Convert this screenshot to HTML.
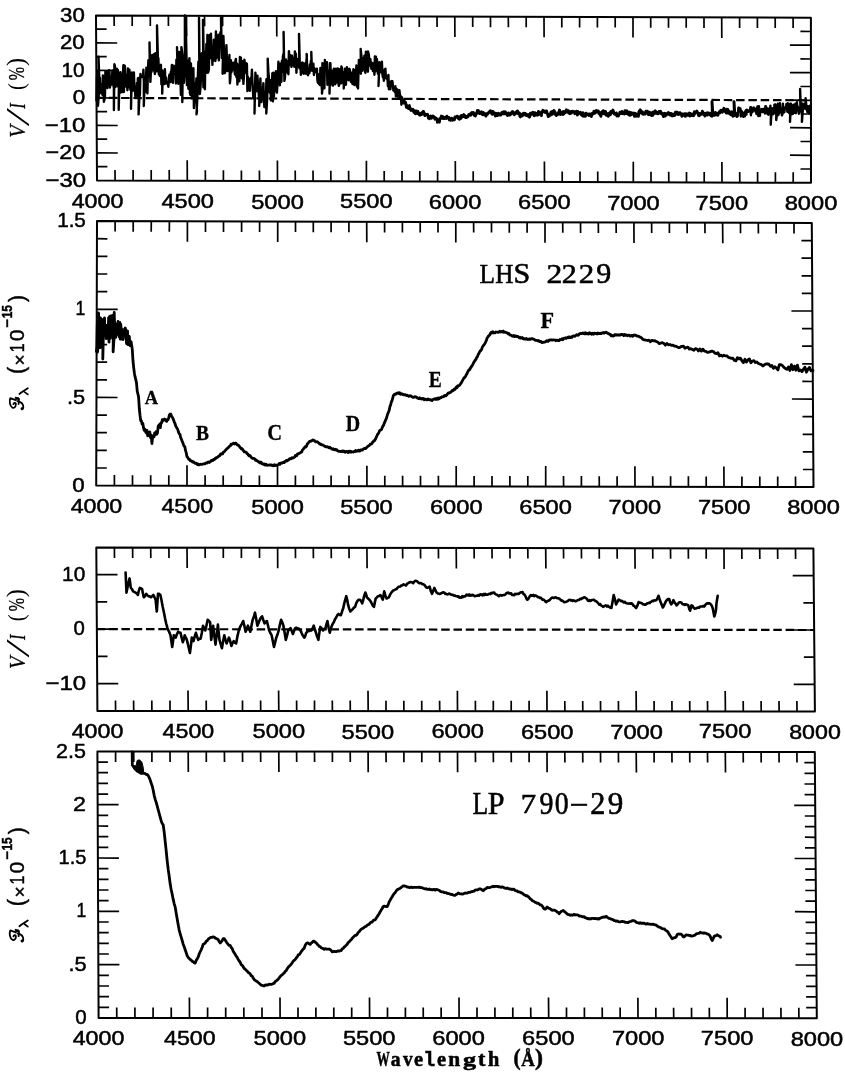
<!DOCTYPE html>
<html><head><meta charset="utf-8"><title>Figure</title>
<style>
html,body{margin:0;padding:0;background:#fff;}
body{width:845px;height:1075px;overflow:hidden;}
svg{display:block;will-change:transform;}
text{fill:#000;}
.tl{font-family:"Liberation Sans",sans-serif;font-size:21px;text-anchor:middle;stroke:#000;stroke-width:0.5px;}
.mono{font-family:"Liberation Mono",monospace;font-size:27px;}
.let{font-family:"Liberation Mono",monospace;font-size:20px;font-weight:bold;}
.wl{font-family:"Liberation Mono",monospace;font-size:21px;font-weight:bold;}
.c1{fill:none;stroke:#000;stroke-width:2.4;stroke-linejoin:round;}
.c1s{fill:none;stroke:#000;stroke-width:2.9;stroke-linejoin:round;stroke-linecap:round;}
.c2{fill:none;stroke:#000;stroke-width:2.8;stroke-linejoin:round;stroke-linecap:round;}
.c3{fill:none;stroke:#000;stroke-width:2.6;stroke-linejoin:round;stroke-linecap:round;}
.c4{fill:none;stroke:#000;stroke-width:2.8;stroke-linejoin:round;stroke-linecap:round;}
.c4b{fill:#000;stroke:#000;stroke-width:1;}
</style></head><body>
<svg width="845" height="1075" viewBox="0 0 845 1075">
<polygon points="96,15.4 810.9,17.7 811,182.8 97,180.4" fill="none" stroke="#000" stroke-width="2.0" stroke-linejoin="round"/>
<path d="M114.1 15.5L114.2 26M115.1 180.5L115 170M132.2 15.5L132.2 26M133.1 180.5L133.1 170M150.3 15.6L150.3 26.1M151.2 180.6L151.2 170.1M168.4 15.6L168.4 26.1M169.3 180.6L169.2 170.1M186.5 15.7L186.6 36.2M187.3 180.7L187.2 160.2M204.5 15.7L204.6 26.2M205.4 180.8L205.3 170.3M222.6 15.8L222.6 26.3M223.4 180.8L223.4 170.3M240.6 15.9L240.7 26.4M241.4 180.9L241.4 170.4M258.7 15.9L258.7 26.4M259.5 180.9L259.4 170.4M276.7 16L276.8 36.5M277.5 181L277.4 160.5M294.5 16L294.6 26.5M295.3 181.1L295.2 170.6M312.4 16.1L312.4 26.6M313.1 181.1L313 170.6M330.2 16.1L330.2 26.6M330.9 181.2L330.8 170.7M348 16.2L348 26.7M348.7 181.2L348.6 170.7M365.8 16.3L365.9 36.8M366.4 181.3L366.4 160.8M383.6 16.3L383.6 26.8M384.2 181.4L384.2 170.9M401.4 16.4L401.5 26.9M402 181.4L402 170.9M419.2 16.4L419.3 26.9M419.8 181.5L419.8 171M437 16.5L437.1 27M437.6 181.5L437.6 171M454.8 16.6L454.9 37M455.4 181.6L455.3 161.1M472.7 16.6L472.7 27.1M473.2 181.7L473.2 171.2M490.5 16.7L490.5 27.2M491 181.7L491 171.2M508.3 16.7L508.4 27.2M508.8 181.8L508.8 171.3M526.2 16.8L526.2 27.3M526.6 181.8L526.6 171.3M544 16.8L544.1 37.3M544.5 181.9L544.4 161.4M561.8 16.9L561.8 27.4M562.2 182L562.2 171.5M579.6 17L579.6 27.5M580 182L580 171.5M597.4 17L597.4 27.5M597.8 182.1L597.7 171.6M615.2 17.1L615.2 27.6M615.5 182.1L615.5 171.6M633 17.1L633 37.6M633.3 182.2L633.3 161.7M650.7 17.2L650.7 27.7M651 182.3L651 171.8M668.5 17.2L668.5 27.7M668.8 182.3L668.7 171.8M686.2 17.3L686.2 27.8M686.5 182.4L686.5 171.9M704 17.4L704 27.9M704.2 182.4L704.2 171.9M721.7 17.4L721.8 37.9M722 182.5L721.9 162M739.6 17.5L739.6 28M739.8 182.6L739.7 172.1M757.4 17.5L757.4 28M757.6 182.6L757.6 172.1M775.2 17.6L775.2 28.1M775.4 182.7L775.4 172.2M793.1 17.6L793.1 28.1M793.2 182.7L793.2 172.2M96.9 166.7L107.4 166.7M811 169L800.5 169M96.8 152.9L117.8 153M811 155.3L790 155.2M96.8 139.2L107.2 139.2M811 141.5L800.5 141.5M96.7 125.4L117.7 125.5M811 127.8L790 127.7M96.6 111.7L107.1 111.7M811 114L800.5 114M96.5 97.9L117.5 98M811 100.3L790 100.2M96.4 84.2L106.9 84.2M810.9 86.5L800.4 86.5M96.3 70.4L117.3 70.5M810.9 72.7L789.9 72.7M96.2 56.6L106.7 56.7M810.9 59L800.4 58.9M96.2 42.9L117.2 43M810.9 45.2L789.9 45.1M96.1 29.1L106.6 29.2M810.9 31.5L800.4 31.4" stroke="#000" stroke-width="1.7" fill="none"/>
<polygon points="97,221.1 811.8,223 813.5,487.1 96.2,485.6" fill="none" stroke="#000" stroke-width="2.0" stroke-linejoin="round"/>
<path d="M115.1 221.1L115.1 231.6M114.4 485.6L114.4 475.1M133.2 221.2L133.2 231.7M132.5 485.7L132.5 475.2M151.3 221.2L151.2 231.7M150.7 485.7L150.7 475.2M169.4 221.3L169.3 231.8M168.8 485.8L168.8 475.3M187.4 221.3L187.4 241.8M187 485.8L187 465.3M205.5 221.4L205.5 231.9M205.1 485.8L205.1 475.3M223.5 221.4L223.5 231.9M223.2 485.9L223.2 475.4M241.6 221.5L241.6 232M241.3 485.9L241.3 475.4M259.6 221.5L259.6 232M259.4 485.9L259.4 475.4M277.7 221.6L277.7 242.1M277.5 486L277.5 465.5M295.5 221.6L295.5 232.1M295.4 486L295.4 475.5M313.3 221.7L313.3 232.2M313.3 486L313.3 475.6M331.1 221.7L331.1 232.2M331.1 486.1L331.1 475.6M348.9 221.8L348.9 232.3M349 486.1L349 475.6M366.7 221.8L366.8 242.3M366.9 486.2L366.9 465.7M384.6 221.9L384.6 232.4M384.8 486.2L384.8 475.7M402.4 221.9L402.4 232.4M402.6 486.2L402.6 475.7M420.2 222L420.2 232.5M420.5 486.3L420.5 475.8M438 222L438 232.5M438.4 486.3L438.4 475.8M455.8 222.1L455.8 242.5M456.2 486.4L456.2 465.9M473.6 222.1L473.7 232.6M474.1 486.4L474.1 475.9M491.5 222.1L491.5 232.6M492 486.4L492 475.9M509.3 222.2L509.3 232.7M509.9 486.5L509.9 476M527.1 222.2L527.1 232.7M527.8 486.5L527.8 476M545 222.3L545 242.8M545.7 486.5L545.7 466M562.7 222.3L562.8 232.8M563.6 486.6L563.5 476.1M580.5 222.4L580.6 232.9M581.4 486.6L581.4 476.1M598.3 222.4L598.4 232.9M599.3 486.7L599.2 476.2M616.1 222.5L616.2 233M617.1 486.7L617.1 476.2M633.9 222.5L634 243M635 486.7L634.9 466.2M651.6 222.6L651.7 233.1M652.8 486.8L652.7 476.3M669.4 222.6L669.4 233.1M670.6 486.8L670.6 476.3M687.1 222.7L687.2 233.2M688.4 486.8L688.4 476.3M704.9 222.7L705 233.2M706.2 486.9L706.2 476.4M722.6 222.8L722.8 243.3M724 486.9L723.9 466.4M740.5 222.8L740.5 233.3M741.9 487L741.9 476.5M758.3 222.9L758.4 233.4M759.8 487L759.8 476.5M776.1 222.9L776.2 233.4M777.7 487L777.7 476.5M794 223L794 233.5M795.6 487.1L795.5 476.6M96.3 468L106.8 468M813.4 469.5L802.9 469.5M96.3 450.3L106.8 450.4M813.3 451.9L802.8 451.9M96.4 432.7L106.9 432.7M813.2 434.3L802.7 434.3M96.4 415.1L106.9 415.1M813 416.7L802.5 416.6M96.5 397.4L117.5 397.5M812.9 399.1L791.9 399M96.5 379.8L107 379.8M812.8 381.5L802.3 381.4M96.6 362.2L107.1 362.2M812.7 363.9L802.2 363.8M96.6 344.5L107.1 344.6M812.6 346.2L802.1 346.2M96.7 326.9L107.2 326.9M812.5 328.6L802 328.6M96.7 309.3L117.7 309.3M812.4 311L791.4 311M96.8 291.6L107.3 291.7M812.3 293.4L801.8 293.4M96.8 274L107.3 274M812.1 275.8L801.6 275.8M96.9 256.4L107.4 256.4M812 258.2L801.5 258.2M96.9 238.7L107.4 238.8M811.9 240.6L801.4 240.6" stroke="#000" stroke-width="1.7" fill="none"/>
<polygon points="96.3,547.4 813.4,548.5 814.9,711.6 97.4,710.9" fill="none" stroke="#000" stroke-width="2.0" stroke-linejoin="round"/>
<path d="M114.4 547.4L114.5 557.9M115.6 710.9L115.5 700.4M132.6 547.5L132.7 558M133.7 710.9L133.6 700.4M150.7 547.5L150.8 558M151.9 711L151.8 700.5M168.9 547.5L169 558M170 711L170 700.5M187 547.5L187.2 568M188.2 711L188 690.5M205.1 547.6L205.2 558.1M206.3 711L206.2 700.5M223.3 547.6L223.3 558.1M224.4 711L224.3 700.5M241.4 547.6L241.4 558.1M242.5 711L242.5 700.5M259.5 547.6L259.5 558.1M260.7 711.1L260.6 700.6M277.6 547.7L277.7 568.2M278.8 711.1L278.6 690.6M295.4 547.7L295.5 558.2M296.7 711.1L296.6 700.6M313.3 547.7L313.4 558.2M314.5 711.1L314.5 700.6M331.2 547.8L331.3 558.3M332.4 711.1L332.3 700.6M349 547.8L349.1 558.3M350.3 711.1L350.2 700.6M366.9 547.8L367.1 568.3M368.2 711.2L368 690.7M384.8 547.8L384.9 558.3M386 711.2L386 700.7M402.6 547.9L402.7 558.4M403.9 711.2L403.8 700.7M420.5 547.9L420.6 558.4M421.8 711.2L421.7 700.7M438.4 547.9L438.5 558.4M439.7 711.2L439.6 700.7M456.2 548L456.4 568.4M457.5 711.2L457.4 690.8M474.1 548L474.2 558.5M475.4 711.3L475.4 700.8M492 548L492.1 558.5M493.3 711.3L493.3 700.8M509.9 548L510 558.5M511.2 711.3L511.2 700.8M527.8 548.1L527.9 558.6M529.1 711.3L529.1 700.8M545.7 548.1L545.9 568.6M547 711.3L546.9 690.8M563.5 548.1L563.6 558.6M564.9 711.4L564.8 700.9M581.4 548.1L581.5 558.6M582.8 711.4L582.7 700.9M599.2 548.2L599.3 558.7M600.6 711.4L600.5 700.9M617.1 548.2L617.2 558.7M618.5 711.4L618.4 700.9M634.9 548.2L635.1 568.7M636.3 711.4L636.1 690.9M652.7 548.3L652.8 558.8M654.1 711.4L654.1 700.9M670.5 548.3L670.6 558.8M672 711.5L671.9 701M688.3 548.3L688.4 558.8M689.8 711.5L689.7 701M706.2 548.3L706.2 558.8M707.6 711.5L707.5 701M724 548.4L724.1 568.9M725.4 711.5L725.2 691M741.8 548.4L741.9 558.9M743.3 711.5L743.2 701M759.7 548.4L759.8 558.9M761.2 711.5L761.1 701M777.6 548.4L777.7 558.9M779.1 711.6L779 701.1M795.5 548.5L795.6 559M797 711.6L796.9 701.1M97.2 683.6L118.2 683.7M814.6 684.4L793.7 684.4M97 656.4L107.5 656.4M814.4 657.2L803.9 657.2M96.8 629.1L117.8 629.2M814.1 630L793.2 630M96.7 601.9L107.2 601.9M813.9 602.9L803.4 602.9M96.5 574.6L117.5 574.7M813.6 575.7L792.7 575.7" stroke="#000" stroke-width="1.7" fill="none"/>
<polygon points="97.4,751.4 814.8,752.1 816.8,1018.2 98.6,1018" fill="none" stroke="#000" stroke-width="2.0" stroke-linejoin="round"/>
<path d="M115.6 751.4L115.6 761.9M116.8 1018L116.7 1007.5M133.7 751.4L133.8 761.9M134.9 1018L134.9 1007.5M151.9 751.5L151.9 762M153.1 1018L153.1 1007.5M170 751.5L170.1 762M171.3 1018L171.2 1007.5M188.2 751.5L188.3 772M189.5 1018L189.4 997.5M206.3 751.5L206.3 762M207.6 1018L207.6 1007.5M224.4 751.5L224.5 762M225.7 1018L225.7 1007.5M242.5 751.5L242.6 762M243.9 1018L243.8 1007.5M260.6 751.6L260.7 762.1M262 1018L262 1007.5M278.8 751.6L278.9 772.1M280.1 1018L280 997.6M296.6 751.6L296.7 762.1M298 1018.1L298 1007.6M314.5 751.6L314.6 762.1M315.9 1018.1L315.9 1007.6M332.4 751.6L332.4 762.1M333.8 1018.1L333.8 1007.6M350.2 751.6L350.3 762.1M351.7 1018.1L351.7 1007.6M368.1 751.7L368.2 772.2M369.6 1018.1L369.5 997.6M386 751.7L386.1 762.2M387.5 1018.1L387.5 1007.6M403.9 751.7L403.9 762.2M405.4 1018.1L405.4 1007.6M421.8 751.7L421.8 762.2M423.3 1018.1L423.2 1007.6M439.6 751.7L439.7 762.2M441.2 1018.1L441.1 1007.6M457.5 751.8L457.6 772.2M459.1 1018.1L459 997.6M475.4 751.8L475.5 762.3M477 1018.1L477 1007.6M493.3 751.8L493.4 762.3M494.9 1018.1L494.9 1007.6M511.2 751.8L511.3 762.3M512.8 1018.1L512.8 1007.6M529.1 751.8L529.1 762.3M530.8 1018.1L530.7 1007.6M547 751.8L547.1 772.3M548.7 1018.1L548.5 997.6M564.8 751.9L564.9 762.4M566.5 1018.1L566.5 1007.6M582.7 751.9L582.8 762.4M584.4 1018.1L584.4 1007.6M600.5 751.9L600.6 762.4M602.3 1018.1L602.2 1007.6M618.4 751.9L618.5 762.4M620.2 1018.1L620.1 1007.6M636.2 751.9L636.4 772.4M638 1018.2L637.9 997.7M654.1 751.9L654.1 762.4M655.9 1018.2L655.8 1007.7M671.9 752L672 762.5M673.7 1018.2L673.6 1007.7M689.7 752L689.8 762.5M691.6 1018.2L691.5 1007.7M707.5 752L707.6 762.5M709.4 1018.2L709.3 1007.7M725.3 752L725.5 772.5M727.2 1018.2L727.1 997.7M743.2 752L743.3 762.5M745.1 1018.2L745.1 1007.7M761.1 752L761.2 762.5M763.1 1018.2L763 1007.7M779 752.1L779.1 762.6M781 1018.2L780.9 1007.7M796.9 752.1L797 762.6M798.9 1018.2L798.8 1007.7M98.6 1007.3L109.1 1007.3M816.7 1007.6L806.2 1007.6M98.5 996.7L109 996.7M816.6 996.9L806.1 996.9M98.5 986L109 986M816.6 986.3L806.1 986.3M98.4 975.3L108.9 975.3M816.5 975.6L806 975.6M98.4 964.7L119.4 964.7M816.4 965L795.4 965M98.3 954L108.8 954M816.3 954.3L805.8 954.3M98.3 943.4L108.8 943.4M816.2 943.7L805.7 943.7M98.2 932.7L108.7 932.7M816.2 933L805.7 933M98.2 922L108.7 922M816.1 922.4L805.6 922.4M98.1 911.4L119.1 911.4M816 911.8L795 911.7M98.1 900.7L108.6 900.7M815.9 901.1L805.4 901.1M98 890L108.5 890M815.8 890.5L805.3 890.5M98 879.4L108.5 879.4M815.8 879.8L805.3 879.8M97.9 868.7L108.4 868.7M815.7 869.2L805.2 869.2M97.9 858L118.9 858.1M815.6 858.5L794.6 858.5M97.8 847.4L108.3 847.4M815.5 847.9L805 847.9M97.8 836.7L108.3 836.7M815.4 837.3L804.9 837.2M97.7 826L108.2 826.1M815.4 826.6L804.9 826.6M97.7 815.4L108.2 815.4M815.3 816L804.8 816M97.6 804.7L118.6 804.7M815.2 805.3L794.2 805.3M97.6 794.1L108.1 794.1M815.1 794.7L804.6 794.7M97.5 783.4L108 783.4M815 784L804.5 784M97.5 772.7L108 772.7M815 773.4L804.5 773.4M97.4 762.1L107.9 762.1M814.9 762.7L804.4 762.7" stroke="#000" stroke-width="1.7" fill="none"/>
<line x1="96.5" y1="97.9" x2="811" y2="100.3" stroke="#000" stroke-width="2.2" stroke-dasharray="8.5 3.8"/>
<line x1="96.8" y1="629.1" x2="814.1" y2="630" stroke="#000" stroke-width="2.2" stroke-dasharray="8.5 3.8"/>
<path d="M96.4 101.2 96.9 77.3 97.4 71.6 97.9 105.8 98.4 100.2 98.9 92.8 98.5 56.7 99.4 81.6 99.9 78.0 100.4 93.1 100.9 88.3 101.4 89.2 101.9 90.6 102.4 94.7 102.9 75.5 103.4 77.6 103.9 101.8 104.4 99.5 104.9 98.2 105.4 71.1 105.9 71.5 106.4 77.8 106.9 82.3 107.4 88.1 107.9 71.8 108.4 84.8 108.9 70.3 109.4 70.3 109.9 87.5 110.4 83.1 110.9 85.0 111.4 76.6 111.9 79.2 112.4 70.4 112.9 73.9 113.4 85.6 113.9 88.0 113.9 110.0 114.4 64.3 114.9 65.7 115.4 87.1 115.9 81.3 116.4 85.8 116.9 68.6 117.4 75.2 117.9 70.0 118.4 87.1 118.9 73.4 118.7 109.7 119.4 82.3 119.9 92.9 120.4 72.3 120.9 79.6 121.4 86.2 121.9 92.2 122.4 76.2 122.9 74.4 123.4 65.3 123.9 92.0 124.4 65.5 124.9 66.1 125.4 82.3 125.9 80.0 126.4 86.9 126.9 74.7 127.4 90.2 127.9 68.4 128.4 73.1 128.9 87.4 129.4 69.6 129.9 76.7 130.4 89.9 130.9 89.1 131.4 76.6 131.0 108.7 131.9 72.5 132.4 79.2 132.9 90.6 133.4 79.8 133.9 72.5 134.4 90.6 134.9 86.5 135.4 97.2 135.9 98.0 136.4 97.3 136.9 83.0 137.4 93.6 137.9 78.1 138.4 78.0 138.9 80.1 138.6 114.4 139.4 96.5 139.9 94.9 140.4 74.0 140.9 77.2 141.4 76.9 141.9 76.3 142.4 77.0 142.9 76.6 143.4 69.8 143.9 82.3 143.8 106.0 144.4 90.3 144.9 81.2 145.4 91.7 145.9 81.8 146.4 67.6 146.9 88.9 147.4 93.4 147.9 70.7 148.4 60.2 148.9 76.0 149.4 74.9 149.9 73.5 149.5 42.5 150.4 81.9 150.9 71.2 151.4 72.2 151.9 55.2 152.4 65.0 152.9 70.3 153.4 54.6 153.9 54.2 154.4 69.8 154.9 74.0 155.4 53.2 155.9 67.6 156.4 54.1 156.9 71.3 157.4 69.2 157.0 25.4 157.9 58.4 158.4 58.3 158.9 74.6 159.4 68.2 159.9 76.0 160.4 65.7 160.9 64.7 161.4 84.1 161.9 75.5 162.4 70.4 162.2 93.6 162.9 72.0 163.4 77.7 163.9 77.6 164.4 84.1 164.9 69.2 165.4 81.9 165.9 77.4 166.4 83.3 166.9 82.1 167.4 83.1 167.9 84.7 168.4 86.8 168.9 77.8 169.4 74.7 169.9 80.0 170.4 82.1 170.9 71.7 171.4 71.5 171.9 64.9 172.4 78.2 172.9 82.9 173.4 69.8 173.9 65.7 174.4 66.5 174.9 70.2 175.4 67.2 175.9 83.5 176.4 59.6 176.9 66.1 177.4 58.9 177.0 47.2 177.9 77.9 178.4 83.8 178.9 58.4 179.4 51.9 179.9 70.8 180.4 77.5 180.9 94.9 181.4 47.1 181.9 50.7 182.4 54.5 182.3 102.0 182.9 55.9 183.4 56.5 183.9 82.9 184.4 75.8 184.9 54.8 184.9 15.5 185.4 52.4 185.9 58.0 185.6 17.0 186.4 52.2 186.9 85.0 187.4 60.4 187.9 73.7 188.4 88.8 188.9 70.3 189.4 58.3 189.9 93.2 190.4 94.8 190.9 63.5 191.4 75.0 191.9 98.5 192.4 79.4 192.9 74.2 193.4 68.2 193.9 108.1 194.4 101.8 194.9 83.3 195.4 89.8 195.9 89.4 196.4 78.5 196.9 111.3 196.5 114.4 197.4 96.2 197.9 75.0 198.4 61.8 198.9 81.8 199.4 74.6 199.0 17.8 199.9 94.0 200.4 87.9 200.9 80.3 201.4 54.3 201.9 53.3 202.4 61.0 202.9 56.7 203.4 87.2 203.0 20.0 203.9 67.7 204.4 72.7 204.9 89.3 205.4 51.8 205.9 63.9 206.4 44.0 206.9 72.8 207.4 35.0 207.9 72.6 208.4 71.7 208.9 68.6 209.4 35.3 209.9 42.1 210.4 58.3 210.9 33.6 211.4 47.8 211.9 47.1 212.4 64.9 212.9 50.8 213.4 60.5 213.9 39.8 214.4 57.2 214.9 43.4 215.4 61.1 215.9 31.4 216.4 58.4 216.9 36.0 217.4 48.6 217.9 48.2 218.4 34.7 218.9 60.4 219.4 40.9 219.9 41.1 220.4 32.2 220.9 41.3 221.4 47.9 221.0 17.8 221.9 57.9 222.4 44.1 222.9 57.4 222.6 73.7 223.4 35.9 223.9 49.0 224.4 53.2 224.9 73.1 225.4 69.5 225.9 64.9 226.4 45.3 226.9 59.1 227.4 71.1 227.9 58.5 228.4 69.8 228.9 67.8 229.4 55.0 229.9 83.2 230.4 77.8 230.9 60.3 231.4 72.5 231.9 62.6 232.4 65.2 232.9 70.2 233.4 62.6 233.9 63.8 234.4 65.5 234.9 74.5 235.4 60.9 235.9 58.9 236.4 76.9 236.9 63.5 237.4 84.5 237.9 71.8 238.4 77.4 238.9 64.5 239.4 81.3 239.9 57.0 240.4 58.8 240.9 57.6 241.4 77.1 241.9 78.3 242.4 61.2 242.9 69.0 243.4 83.9 243.9 76.2 244.4 59.6 244.9 64.6 245.4 63.2 245.9 63.2 246.4 73.4 246.9 63.8 247.4 91.1 247.9 76.8 248.4 80.2 248.9 84.9 249.4 88.8 249.9 90.8 250.4 78.8 250.9 77.7 251.4 80.5 251.9 69.7 252.4 81.2 252.9 90.1 253.4 98.5 253.9 93.6 254.4 90.4 254.9 89.2 254.5 113.5 255.4 72.7 255.9 81.7 256.4 82.2 256.9 91.2 257.4 75.6 257.9 83.7 258.4 87.7 258.9 96.1 259.4 97.5 259.2 106.0 259.9 91.3 260.4 78.4 260.9 97.3 261.4 102.0 261.9 92.3 262.4 87.5 262.9 92.5 263.4 83.1 263.9 100.0 264.4 107.1 264.9 92.5 265.4 97.7 265.9 100.7 266.4 79.2 266.3 113.5 266.9 103.0 267.4 91.5 267.9 75.9 267.7 58.6 268.4 71.9 268.9 77.5 269.4 88.8 269.9 92.8 270.4 80.2 270.9 100.4 271.4 81.1 271.9 84.5 272.4 73.1 272.9 101.2 273.4 72.6 273.9 96.7 274.4 83.8 274.9 83.2 275.4 82.1 275.9 71.3 276.4 91.1 276.9 92.6 277.4 85.8 277.9 77.7 278.4 61.7 278.9 83.7 279.4 66.2 279.9 85.2 280.4 63.8 280.9 74.0 281.4 81.8 281.9 60.8 282.4 71.9 282.9 56.4 283.4 54.0 283.9 57.5 283.6 32.0 284.4 80.9 284.9 78.2 285.4 69.8 285.9 59.4 286.4 70.2 286.9 72.2 287.4 61.7 287.9 68.0 288.4 74.2 288.9 51.2 289.4 56.6 289.9 64.5 290.4 55.1 290.9 62.0 291.4 66.9 291.9 55.6 292.4 64.9 292.9 57.7 293.4 65.5 293.9 59.1 294.4 66.8 294.9 51.4 295.4 66.7 295.9 53.7 296.4 72.8 296.9 64.0 297.4 60.7 297.9 59.1 298.4 64.1 298.9 66.0 299.4 68.1 299.0 34.0 299.9 68.4 300.4 62.9 300.9 74.9 301.4 71.9 301.9 72.7 302.4 62.4 302.9 63.0 303.4 66.0 303.9 73.8 304.4 65.1 304.9 65.1 305.4 62.9 305.9 73.8 306.4 60.8 306.9 55.4 306.6 54.0 307.4 71.0 307.9 75.2 308.4 72.0 308.9 69.6 309.4 73.3 309.9 64.5 310.4 71.0 310.9 60.9 311.4 62.6 311.3 52.0 311.9 69.4 312.4 70.8 312.9 69.3 313.4 63.8 313.9 75.0 314.4 72.6 314.9 68.6 315.4 70.1 315.9 71.8 316.4 70.2 316.9 68.7 317.4 80.2 317.9 82.7 318.4 78.4 318.9 83.9 319.4 73.9 319.9 85.1 320.4 67.9 320.9 85.3 321.4 78.9 321.9 89.6 322.4 63.2 322.0 93.6 322.9 85.0 323.4 63.8 323.9 76.4 324.4 88.4 324.9 60.0 325.4 67.0 325.9 68.4 326.4 69.2 326.9 62.2 327.4 84.8 327.9 82.6 328.4 71.7 328.9 70.7 329.4 76.6 329.9 63.3 329.5 93.6 330.4 63.2 330.9 84.2 331.4 70.2 331.9 74.8 332.4 84.7 332.9 85.6 333.4 74.4 333.9 68.6 334.4 70.6 334.9 84.3 335.4 83.8 335.9 68.7 336.4 82.5 336.9 72.2 337.4 74.8 337.9 68.4 338.4 83.5 338.9 85.9 339.4 69.3 339.9 78.3 340.4 69.2 340.9 83.5 341.4 66.4 341.9 67.6 342.4 80.4 342.9 72.0 343.4 84.0 343.9 83.4 343.7 88.5 344.4 80.2 344.9 68.7 345.4 79.9 345.9 84.8 346.4 74.8 346.9 67.2 347.4 70.1 347.9 71.7 348.4 80.2 348.9 69.3 349.4 68.8 349.9 69.9 350.4 79.1 350.9 81.9 351.4 72.7 351.9 79.1 352.4 84.0 352.9 77.4 353.4 69.2 353.9 70.8 354.4 85.1 354.9 79.1 355.4 70.0 355.9 78.4 356.4 65.5 356.9 86.5 357.4 73.6 357.9 75.7 358.4 73.8 358.0 88.5 358.9 59.9 359.4 71.6 359.9 62.0 360.4 60.7 360.9 73.7 360.7 49.0 361.4 55.9 361.9 60.2 362.4 70.8 362.9 58.3 363.4 58.6 363.9 64.3 364.4 55.6 364.9 70.9 365.4 72.8 365.9 51.7 366.4 61.2 366.9 67.7 367.4 59.6 367.9 71.8 368.4 62.2 368.0 51.5 368.9 55.1 369.4 63.6 369.9 65.6 370.4 59.2 370.9 66.0 371.4 68.9 371.9 62.9 372.4 62.9 372.9 71.1 373.4 67.7 373.9 64.2 374.4 74.8 374.9 56.4 375.4 71.5 375.9 56.7 376.4 67.9 376.9 59.0 377.4 64.7 377.9 73.5 378.4 74.4 378.9 75.1 378.5 86.0 379.4 62.2 379.9 68.9 380.4 63.1 380.9 72.3 381.4 71.0 381.9 61.8 382.4 74.3 382.9 77.2 383.4 75.0 383.9 80.8 384.4 69.8 384.9 70.2 385.4 68.7 385.9 78.1 386.4 78.0 386.9 78.8 387.4 76.5 387.9 86.3 388.4 74.9 388.9 89.2 389.4 84.4 389.9 84.7 390.4 89.2 390.9 81.6 391.4 81.1 391.9 84.2 392.4 81.2 392.9 85.7 393.4 90.6 393.9 90.0 394.4 87.1 394.9 92.2 395.4 86.3 395.9 96.5 396.4 88.6 396.9 90.2 397.4 89.4 397.9 96.6 398.4 98.7 398.9 98.6 399.4 90.1 399.9 94.8 400.4 96.0 400.9 96.6 401.4 104.7 401.9 97.8 402.4 100.9 M737.9 115.6 738.4 107.7 738.9 111.4 739.4 108.0 739.9 109.9 740.4 108.4 740.9 116.5 741.4 110.6 741.9 112.2 742.4 113.8 742.9 116.2 743.4 116.8 743.9 113.0 744.4 112.3 744.9 116.4 745.4 111.2 745.9 110.2 746.4 114.6 746.9 109.7 747.4 110.8 747.9 111.4 748.4 111.8 748.9 110.6 749.4 111.3 749.9 111.4 750.4 107.3 750.9 115.3 751.4 107.4 751.9 112.1 752.4 112.2 752.9 110.7 753.4 108.8 753.9 107.5 754.4 110.3 754.9 109.7 755.4 111.4 755.9 108.7 756.4 114.0 756.9 111.3 757.4 106.4 757.9 110.4 758.4 116.1 758.9 106.2 759.4 112.2 759.9 115.9 760.4 109.8 760.9 112.1 761.4 109.7 761.9 109.0 762.4 112.1 762.9 111.9 763.4 109.0 763.9 110.9 764.4 111.0 764.9 113.5 765.4 106.1 765.9 106.4 766.4 108.1 766.9 108.2 767.4 114.0 767.9 109.9 768.4 114.7 768.9 109.5 769.4 108.2 769.9 112.7 770.4 105.8 770.9 116.2 770.7 124.7 771.4 114.4 771.9 108.5 772.4 108.3 772.9 114.2 773.4 113.8 773.9 112.0 774.4 104.8 774.9 113.3 775.4 104.5 775.9 111.5 776.4 110.5 776.2 120.1 776.9 115.1 777.4 111.5 777.9 103.7 778.4 115.0 778.9 112.7 779.4 110.4 779.9 103.1 780.4 112.3 780.9 108.2 781.4 111.4 781.9 115.3 782.4 114.4 782.9 103.6 783.4 112.6 783.9 108.2 784.4 112.2 784.9 107.4 785.4 108.2 785.9 108.1 786.4 103.9 786.9 106.5 787.4 111.8 787.9 103.3 788.4 103.8 788.9 113.0 789.4 110.8 789.9 109.3 790.4 103.7 790.0 121.9 790.9 103.7 791.4 106.2 791.9 114.4 792.4 109.3 792.9 113.9 793.4 104.8 793.9 107.4 794.4 108.9 794.9 112.8 795.4 103.6 795.9 113.2 796.4 108.0 796.9 102.3 797.4 107.4 797.9 106.7 798.4 110.5 798.9 113.7 799.4 108.1 799.9 110.6 800.4 106.7 800.1 88.9 800.9 111.7 801.4 103.1 801.9 111.2 802.4 103.8 801.9 121.9 802.9 109.1 803.4 104.3 803.9 106.1 804.4 103.8 804.9 106.1 805.4 109.1 805.9 108.2 805.6 98.1 806.4 106.5 806.9 108.8 807.4 112.0 807.9 106.1 808.4 108.8 808.9 107.6 809.4 113.6 809.9 105.7 810.4 110.1 810.9 104.5" class="c1"/>
<path d="M401.9 97.8 402.4 100.9 402.9 102.1 403.4 103.1 403.9 100.3 404.4 101.7 404.9 103.3 405.4 102.0 405.9 104.0 406.4 107.2 406.9 105.5 407.4 107.7 407.9 108.1 408.4 108.4 408.9 106.5 409.4 105.6 409.9 109.1 410.4 109.3 410.9 110.3 411.4 108.9 411.9 109.2 412.4 110.4 412.9 109.4 413.4 110.4 413.9 112.3 414.4 110.6 414.9 110.9 415.4 113.7 415.9 112.7 416.4 111.0 416.9 112.5 417.4 113.5 417.9 111.5 418.4 112.7 418.9 114.1 419.4 114.9 419.9 114.0 420.4 115.0 420.9 113.3 421.4 113.1 421.9 114.5 422.4 112.2 422.9 113.1 423.4 111.3 423.9 112.7 424.4 113.2 424.9 115.6 425.4 114.9 425.9 114.9 426.4 114.4 426.9 114.8 427.4 114.2 427.9 115.3 428.4 118.0 428.9 117.6 429.4 118.7 429.9 116.4 430.4 117.1 430.9 116.0 431.4 118.3 431.9 117.3 432.4 117.0 432.9 116.0 433.4 116.5 433.9 116.7 434.4 117.2 434.9 119.2 435.4 118.9 435.9 118.0 436.4 119.0 436.9 118.9 437.4 122.2 437.9 120.2 438.4 121.6 438.9 121.5 439.4 122.1 439.9 118.5 440.4 118.7 440.9 118.0 441.4 116.1 441.9 118.4 442.4 116.5 442.9 118.5 443.4 118.3 443.9 117.2 444.4 118.6 444.9 118.0 445.4 117.1 445.9 117.2 446.4 118.5 446.9 116.2 447.4 117.1 447.9 117.5 448.4 118.3 448.9 117.4 449.4 119.9 449.9 118.7 450.4 120.3 450.9 120.1 451.4 118.2 451.9 118.4 452.4 118.7 452.9 120.2 453.4 119.0 453.9 118.5 454.4 119.8 454.9 117.0 455.4 117.0 455.9 117.2 456.4 116.8 456.9 116.2 457.4 116.2 457.9 118.2 458.4 117.9 458.9 118.6 459.4 119.1 459.9 116.6 460.4 117.8 460.9 118.4 461.4 115.4 461.9 116.6 462.4 116.0 462.9 116.7 463.4 116.5 463.9 114.6 464.4 116.7 464.9 115.5 465.4 117.4 465.9 117.6 466.4 116.4 466.9 117.3 467.4 116.6 467.9 116.7 468.4 115.3 468.9 114.4 469.4 115.0 469.9 115.1 470.4 113.7 470.9 115.2 471.4 113.3 471.9 112.5 472.4 113.1 472.9 113.4 473.4 112.6 473.9 114.6 474.4 115.4 474.9 115.2 475.4 116.0 475.9 113.5 476.4 114.0 476.9 112.7 477.4 110.6 477.9 111.5 478.4 110.5 478.9 112.7 479.4 113.6 479.9 113.6 480.4 113.1 480.9 112.7 481.4 111.8 481.9 112.9 482.4 114.7 482.9 113.5 483.4 112.6 483.9 114.7 484.4 113.4 484.9 114.4 485.4 114.9 485.9 116.1 486.4 113.8 486.9 113.8 487.4 114.3 487.9 113.3 488.4 112.7 488.9 112.5 489.4 111.5 489.9 111.3 490.4 110.7 490.9 112.6 491.4 113.2 491.9 112.1 492.4 114.4 492.9 111.4 493.4 112.0 493.9 113.6 494.4 113.3 494.9 113.8 495.4 116.1 495.9 113.2 496.4 113.5 496.9 113.7 497.4 115.5 497.9 114.0 498.4 113.2 498.9 115.1 499.4 114.6 499.9 114.1 500.4 115.0 500.9 115.1 501.4 113.4 501.9 112.5 502.4 112.2 502.9 113.2 503.4 113.8 503.9 111.7 504.4 111.7 504.9 113.7 505.4 112.0 505.9 113.8 506.4 114.1 506.9 114.4 507.4 115.5 507.9 115.1 508.4 112.9 508.9 114.9 509.4 114.6 509.9 114.9 510.4 114.0 510.9 113.1 511.4 114.0 511.9 112.7 512.4 111.5 512.9 111.9 513.4 112.9 513.9 113.1 514.4 114.8 514.9 113.4 515.4 112.8 515.9 112.2 516.4 111.7 516.9 113.3 517.4 110.9 517.9 112.1 518.4 113.7 518.9 113.3 519.4 113.0 519.9 116.3 520.4 116.9 520.9 114.1 521.4 114.6 521.9 115.1 522.4 115.6 522.9 113.8 523.4 114.9 523.9 113.2 524.4 114.8 524.9 113.4 525.4 113.5 525.9 115.1 526.4 115.5 526.9 115.6 527.4 114.7 527.9 114.5 528.4 116.3 528.9 116.5 529.4 117.1 529.9 116.4 530.4 113.2 530.9 113.5 531.4 114.3 531.9 112.8 532.4 112.7 532.9 112.2 533.4 114.3 533.9 115.6 534.4 115.7 534.9 112.6 535.4 114.7 535.9 113.8 536.4 114.6 536.9 113.6 537.4 115.2 537.9 115.0 538.4 111.5 538.9 114.1 539.4 112.4 539.9 112.6 540.4 113.7 540.9 115.1 541.4 115.5 541.9 111.8 542.4 112.0 542.9 110.3 543.4 111.8 543.9 111.6 544.4 111.2 544.9 110.9 545.4 112.5 545.9 112.6 546.4 110.9 546.9 112.1 547.4 113.9 547.9 115.4 548.4 116.6 548.9 114.5 549.4 115.4 549.9 114.6 550.4 115.1 550.9 112.2 551.4 111.9 551.9 111.5 552.4 114.2 552.9 111.2 553.4 111.8 553.9 110.5 554.4 111.9 554.9 111.7 555.4 114.6 555.9 113.7 556.4 115.6 556.9 114.1 557.4 113.6 557.9 114.4 558.4 113.3 558.9 111.6 559.4 110.1 559.9 110.6 560.4 114.6 560.9 113.1 561.4 112.5 561.9 112.5 562.4 113.1 562.9 114.6 563.4 111.4 563.9 113.8 564.4 112.1 564.9 111.5 565.4 112.7 565.9 111.0 566.4 109.8 566.9 111.6 567.4 112.0 567.9 111.9 568.4 110.7 568.9 113.1 569.4 112.9 569.9 113.6 570.4 111.7 570.9 113.3 571.4 113.0 571.9 111.3 572.4 111.2 572.9 112.1 573.4 111.9 573.9 111.5 574.4 112.4 574.9 113.7 575.4 111.9 575.9 112.8 576.4 111.2 576.9 112.1 577.4 115.1 577.9 111.4 578.4 112.7 578.9 113.2 579.4 113.0 579.9 113.0 580.4 112.2 580.9 114.3 581.4 114.9 581.9 114.9 582.4 115.8 582.9 112.7 583.4 116.2 583.9 114.4 584.4 115.6 584.9 113.9 585.4 116.4 585.9 113.1 586.4 115.1 586.9 113.8 587.4 114.4 587.9 114.1 588.4 115.0 588.9 115.5 589.4 113.9 589.9 115.0 590.4 114.1 590.9 114.0 591.4 116.5 591.9 114.4 592.4 113.1 592.9 113.1 593.4 113.8 593.9 111.3 594.4 113.3 594.9 112.5 595.4 112.9 595.9 110.9 596.4 110.5 596.9 110.6 597.4 111.4 597.9 112.1 598.4 111.0 598.9 113.6 599.4 113.8 599.9 114.1 600.4 115.1 600.9 116.3 601.4 112.3 601.9 113.7 602.4 111.4 602.9 113.0 603.4 110.6 603.9 113.9 604.4 111.8 604.9 113.9 605.4 111.4 605.9 113.2 606.4 115.3 606.9 113.5 607.4 113.8 607.9 115.3 608.4 116.3 608.9 113.9 609.4 113.0 609.9 112.9 610.4 114.7 610.9 111.4 611.4 112.9 611.9 111.5 612.4 112.0 612.9 110.1 613.4 111.4 613.9 113.1 614.4 114.2 614.9 114.3 615.4 114.1 615.9 114.5 616.4 113.0 616.9 116.0 617.4 115.8 617.9 115.1 618.4 116.0 618.9 114.6 619.4 113.5 619.9 112.3 620.4 113.6 620.9 113.5 621.4 113.3 621.9 111.5 622.4 113.7 622.9 113.0 623.4 113.5 623.9 113.2 624.4 114.1 624.9 110.8 625.4 111.7 625.9 113.6 626.4 112.5 626.9 110.8 627.4 112.3 627.9 114.0 628.4 112.8 628.9 114.8 629.4 112.1 629.9 115.3 630.4 113.5 630.9 112.5 631.4 114.7 631.9 113.5 632.4 113.8 632.9 113.0 633.4 113.4 633.9 113.5 634.4 116.3 634.9 113.1 635.4 116.2 635.9 115.7 636.4 114.0 636.9 116.2 637.4 115.0 637.9 115.3 638.4 116.2 638.9 112.1 639.4 110.8 639.9 111.8 640.4 109.8 640.9 112.0 641.4 113.2 641.9 112.5 642.4 111.9 642.9 114.2 643.4 114.3 643.9 113.9 644.4 112.9 644.9 114.1 645.4 113.6 645.9 111.1 646.4 112.0 646.9 111.3 647.4 111.3 647.9 112.7 648.4 114.7 648.9 114.6 649.4 112.1 649.9 112.4 650.4 113.3 650.9 115.1 651.4 114.4 651.9 115.6 652.4 112.4 652.9 115.4 653.4 112.0 653.9 113.0 654.4 113.4 654.9 112.6 655.4 110.8 655.9 113.2 656.4 113.1 656.9 112.3 657.4 113.7 657.9 113.2 658.4 113.6 658.9 111.5 659.4 112.2 659.9 112.7 660.4 111.3 660.9 111.7 661.4 114.0 661.9 113.8 662.4 113.3 662.9 113.6 663.4 116.6 663.9 115.2 664.4 114.0 664.9 113.2 665.4 116.0 665.9 114.9 666.4 115.0 666.9 113.5 667.4 113.3 667.9 113.5 668.4 112.5 668.9 114.3 669.4 113.5 669.9 115.0 670.4 113.4 670.9 113.5 671.4 113.8 671.9 115.8 672.4 114.1 672.9 115.9 673.4 114.4 673.9 115.6 674.4 113.9 674.9 115.3 675.4 112.3 675.9 113.8 676.4 112.8 676.9 112.1 677.4 114.2 677.9 112.6 678.4 114.5 678.9 114.4 679.4 114.1 679.9 112.7 680.4 114.1 680.9 113.6 681.4 114.3 681.9 116.3 682.4 113.9 682.9 115.4 683.4 115.4 683.9 113.9 684.4 114.7 684.9 113.7 685.4 116.4 685.9 113.8 686.4 114.3 686.9 113.8 687.4 115.4 687.9 115.4 688.4 114.6 688.9 114.5 689.4 113.1 689.9 116.0 690.4 113.4 690.9 114.3 691.4 114.3 691.9 115.4 692.4 115.2 692.9 114.1 693.4 115.7 693.9 115.2 694.4 111.6 694.9 113.4 695.4 112.6 695.9 111.8 696.4 111.8 696.9 111.1 697.4 112.5 697.9 113.0 698.4 115.1 698.9 115.7 699.4 115.8 699.9 113.5 700.4 114.5 700.9 113.5 701.4 113.3 701.9 114.2 702.4 111.3 702.9 113.0 703.4 113.2 703.9 114.4 704.4 113.3 704.9 116.0 705.4 113.4 705.9 113.9 706.4 113.1 706.9 114.0 707.4 115.1 707.9 112.8 708.4 112.9 708.9 114.3 709.4 114.1 709.9 114.5 710.4 113.3 710.9 115.8 711.4 116.0 711.9 116.2 712.4 113.9 712.0 101.7 712.9 114.7 713.4 112.8 713.9 115.3 714.4 115.3 714.9 115.2 715.4 112.5 715.9 113.8 716.4 114.6 716.9 114.8 717.4 113.4 717.9 115.3 718.4 112.9 718.9 113.2 719.4 111.7 719.9 112.9 720.4 110.9 720.9 110.3 721.4 111.5 721.9 110.6 722.4 112.2 722.9 109.7 723.4 110.0 723.9 108.3 724.4 109.2 724.9 110.7 725.4 111.8 725.9 111.5 726.4 113.0 726.9 109.3 727.4 112.5 727.9 109.5 728.4 113.4 728.9 111.8 729.4 111.6 729.9 112.9 730.4 114.2 730.9 114.8 731.4 112.8 731.9 111.7 732.4 113.0 732.9 116.3 733.4 116.0 733.9 115.9 734.4 113.4 734.0 101.7 734.9 115.2 735.4 112.9 735.9 113.2 736.4 113.9 736.9 116.6 737.4 114.9 737.9 115.6" class="c1s"/>
<path d="M96.4 351.3 96.9 346.7 97.3 324.3 97.8 349.6 97.5 352.0 98.2 334.0 98.7 339.1 98.5 313.0 99.1 322.8 99.6 347.7 100.0 339.0 100.5 347.5 100.9 344.7 100.5 318.0 101.4 326.0 101.8 327.8 102.3 322.0 102.7 321.5 103.2 319.4 102.8 359.0 103.6 325.9 104.1 333.8 104.5 318.0 105.0 335.4 105.4 326.4 105.9 325.5 106.3 338.7 106.8 329.7 107.2 325.2 107.7 329.4 108.1 335.2 108.6 317.8 109.0 342.1 109.5 316.6 109.9 335.9 110.4 338.3 110.8 315.9 111.3 336.5 111.7 325.0 112.2 330.6 112.6 315.5 113.1 316.7 113.5 320.2 113.1 351.8 114.0 339.1 114.4 320.8 114.2 312.4 114.9 333.7 115.3 337.4 115.8 337.3 116.2 324.2 116.7 324.8 117.1 328.8 117.6 334.2 118.0 321.5 118.5 334.4 118.9 335.6 119.4 337.1 119.8 322.5 120.3 339.1 120.7 324.2 121.2 328.8 121.6 333.7 122.1 339.1 122.5 329.6 123.0 339.5 123.4 333.4 123.9 329.9 124.3 330.5 124.8 328.9 125.2 328.0 125.7 329.7 126.1 338.5 126.6 343.5 127.0 331.8 127.5 330.9 127.9 344.7 128.4 339.0 128.8 338.0 129.3 336.4 129.7 341.9 130.2 345.7 130.6 341.5 131.1 341.8 L132.3 349.6 133.0 361.0 133.7 367.6 134.4 373.2 135.1 376.9 135.8 379.6 136.5 382.9 137.2 391.0 137.9 393.8 138.6 397.3 139.3 408.5 140.0 415.2 140.7 420.6 141.4 420.9 142.1 424.2 142.8 423.3 143.5 427.6 144.2 430.3 144.9 429.2 145.6 432.0 146.3 432.9 147.0 430.4 147.7 435.8 148.4 435.0 149.1 433.4 149.8 431.9 150.5 437.5 151.2 435.2 151.9 443.5 152.6 437.4 153.3 435.9 154.0 436.8 154.7 432.8 155.4 434.7 156.1 431.7 156.8 434.2 157.5 432.6 158.2 426.3 158.9 425.1 159.6 424.3 160.3 427.7 161.0 422.8 161.7 422.6 162.4 419.7 163.1 420.7 163.8 419.6 164.5 419.0 165.2 420.1 165.9 419.7 166.6 421.4 167.3 419.6 168.0 419.7 168.7 417.9 169.4 414.9 170.1 414.0 170.8 414.2 171.5 416.1 172.2 417.1 172.9 418.4 173.6 420.0 174.3 422.2 175.0 423.5 175.7 425.9 176.4 427.2 177.1 428.4 177.8 429.6 178.5 432.1 179.2 433.7 179.9 434.1 180.6 437.3 181.3 439.0 182.0 440.8 182.7 442.4 183.4 444.5 184.1 446.1 184.8 446.6 185.5 450.4 186.2 452.6 186.9 456.6 187.6 457.2 188.3 458.7 189.0 459.5 189.7 459.5 190.4 460.9 191.1 460.7 191.8 461.0 192.5 462.1 193.2 461.7 193.9 462.2 194.6 462.9 195.3 463.5 196.0 463.2 196.7 463.3 197.4 464.6 198.1 463.9 198.8 464.8 199.5 464.8 200.2 464.2 200.9 464.3 201.6 464.4 202.3 464.3 203.0 464.0 203.7 463.8 204.4 463.7 205.1 463.9 205.8 463.1 206.5 462.8 207.2 463.0 207.9 462.1 208.6 461.9 209.3 462.6 210.0 461.7 210.7 461.4 211.4 460.4 212.1 460.7 212.8 460.6 213.5 459.4 214.2 459.7 214.9 459.2 215.6 457.9 216.3 458.2 217.0 457.4 217.7 457.2 218.4 456.2 219.1 456.2 219.8 455.7 220.5 454.2 221.2 453.7 221.9 454.0 222.6 453.9 223.3 452.2 224.0 451.8 224.7 451.3 225.4 450.2 226.1 449.6 226.8 448.8 227.5 448.2 228.2 447.8 228.9 446.7 229.6 446.1 230.3 445.9 231.0 444.2 231.7 444.3 232.4 444.1 233.1 443.4 233.8 443.2 234.5 443.9 235.2 443.1 235.9 443.2 236.6 444.1 237.3 445.0 238.0 444.8 238.7 445.6 239.4 446.3 240.1 447.7 240.8 447.8 241.5 449.1 242.2 448.8 242.9 449.8 243.6 450.9 244.3 451.9 245.0 451.8 245.7 452.1 246.4 452.5 247.1 453.7 247.8 453.8 248.5 455.3 249.2 455.9 249.9 455.5 250.6 456.3 251.3 457.5 252.0 457.8 252.7 458.5 253.4 458.3 254.1 458.4 254.8 459.1 255.5 460.3 256.2 460.0 256.9 460.6 257.6 461.2 258.3 461.6 259.0 461.9 259.7 462.8 260.4 462.1 261.1 462.1 261.8 463.7 262.5 463.9 263.2 464.3 263.9 463.8 264.6 464.8 265.3 465.1 266.0 464.2 266.7 465.0 267.4 465.3 268.1 465.2 268.8 465.1 269.5 464.9 270.2 465.1 270.9 465.0 271.6 464.9 272.3 465.7 273.0 465.2 273.7 465.8 274.4 464.6 275.1 465.6 275.8 465.2 276.5 465.4 277.2 465.2 277.9 465.0 278.6 464.4 279.3 463.4 280.0 464.3 280.7 463.2 281.4 463.0 282.1 463.1 282.8 462.6 283.5 462.1 284.2 462.5 284.9 461.7 285.6 460.9 286.3 460.5 287.0 461.0 287.7 460.1 288.4 460.2 289.1 459.2 289.8 458.6 290.5 458.8 291.2 458.8 291.9 457.6 292.6 458.1 293.3 457.9 294.0 457.4 294.7 457.0 295.4 455.4 296.1 455.8 296.8 455.6 297.5 454.0 298.2 453.9 298.9 453.4 299.6 453.3 300.3 452.7 301.0 452.3 301.7 452.0 302.4 450.1 303.1 449.3 303.8 448.5 304.5 447.6 305.2 446.7 305.9 447.0 306.6 446.0 307.3 443.9 308.0 443.6 308.7 442.4 309.4 441.5 310.1 441.1 310.8 441.3 311.5 441.0 312.2 440.4 312.9 439.9 313.6 440.3 314.3 440.4 315.0 441.3 315.7 441.9 316.4 441.8 317.1 441.7 317.8 442.2 318.5 442.8 319.2 443.5 319.9 444.1 320.6 443.9 321.3 444.8 322.0 444.9 322.7 445.0 323.4 445.2 324.1 445.8 324.8 446.4 325.5 446.3 326.2 446.9 326.9 446.8 327.6 446.7 328.3 447.4 329.0 447.8 329.7 447.2 330.4 447.9 331.1 448.2 331.8 449.0 332.5 449.3 333.2 448.8 333.9 449.7 334.6 449.8 335.3 449.3 336.0 449.8 336.7 449.6 337.4 450.8 338.1 450.8 338.8 451.4 339.5 451.4 340.2 451.4 340.9 451.6 341.6 451.4 342.3 450.9 343.0 451.7 343.7 451.0 344.4 451.3 345.1 452.3 345.8 451.4 346.5 451.5 347.2 451.5 347.9 452.5 348.6 451.4 349.3 451.2 350.0 452.2 350.7 451.2 351.4 452.1 352.1 451.8 352.8 451.9 353.5 452.0 354.2 451.4 354.9 451.6 355.6 450.5 356.3 451.4 357.0 451.0 357.7 451.1 358.4 450.2 359.1 451.0 359.8 451.2 360.5 449.8 361.2 449.9 361.9 450.0 362.6 450.1 363.3 449.0 364.0 448.6 364.7 448.4 365.4 448.6 366.1 448.3 366.8 447.2 367.5 446.7 368.2 446.2 368.9 445.6 369.6 445.2 370.3 444.1 371.0 444.0 371.7 443.9 372.4 442.4 373.1 442.2 373.8 440.7 374.5 440.7 375.2 439.6 375.9 438.1 376.6 436.5 377.3 435.0 378.0 433.8 378.7 433.1 379.4 431.1 380.1 430.1 380.8 430.1 381.5 429.4 382.2 427.6 382.9 426.1 383.6 425.1 384.3 423.0 385.0 421.7 385.7 419.8 386.4 418.3 387.1 415.8 387.8 413.6 388.5 412.1 389.2 410.2 389.9 406.8 390.6 405.0 391.3 402.1 392.0 400.6 392.7 398.2 393.4 395.6 394.1 394.7 394.8 394.1 395.5 394.4 396.2 393.9 396.9 393.2 397.6 393.1 398.3 392.7 399.0 393.5 399.7 392.8 400.4 394.2 401.1 393.6 401.8 394.0 402.5 394.0 403.2 394.6 403.9 394.8 404.6 394.6 405.3 394.7 406.0 395.2 406.7 395.6 407.4 395.2 408.1 395.8 408.8 396.3 409.5 395.8 410.2 395.7 410.9 395.8 411.6 396.7 412.3 396.8 413.0 397.3 413.7 397.4 414.4 396.7 415.1 396.7 415.8 397.0 416.5 397.1 417.2 398.0 417.9 398.3 418.6 398.6 419.3 397.8 420.0 398.8 420.7 398.2 421.4 398.5 422.1 399.1 422.8 398.4 423.5 398.6 424.2 399.8 424.9 399.1 425.6 399.3 426.3 399.7 427.0 399.9 427.7 399.0 428.4 399.5 429.1 399.7 429.8 399.9 430.5 399.6 431.2 400.2 431.9 400.6 432.6 399.6 433.3 399.7 434.0 398.9 434.7 399.0 435.4 399.4 436.1 398.4 436.8 399.4 437.5 399.2 438.2 397.9 438.9 398.9 439.6 397.8 440.3 398.0 441.0 397.7 441.7 396.8 442.4 397.0 443.1 396.7 443.8 396.6 444.5 395.5 445.2 395.9 445.9 395.8 446.6 395.0 447.3 394.3 448.0 393.2 448.7 393.3 449.4 392.6 450.1 392.7 450.8 392.2 451.5 391.5 452.2 390.5 452.9 390.7 453.6 390.1 454.3 388.9 455.0 389.3 455.7 388.4 456.4 387.0 457.1 387.6 457.8 385.9 458.5 385.6 459.2 385.6 459.9 384.8 460.6 383.7 461.3 382.8 462.0 381.4 462.7 380.2 463.4 378.9 464.1 377.7 464.8 377.6 465.5 376.4 466.2 374.9 466.9 373.9 467.6 372.2 468.3 370.8 469.0 369.7 469.7 369.8 470.4 367.9 471.1 367.4 471.8 365.8 472.5 365.3 473.2 363.5 473.9 362.2 474.6 361.1 475.3 360.1 476.0 359.2 476.7 357.4 477.4 356.8 478.1 354.6 478.8 353.6 479.5 352.1 480.2 350.9 480.9 350.6 481.6 349.3 482.3 347.3 483.0 346.1 483.7 345.2 484.4 344.4 485.1 343.1 485.8 341.6 486.5 340.0 487.2 337.9 487.9 337.0 488.6 335.8 489.3 335.3 490.0 334.4 490.7 333.0 491.4 332.2 492.1 332.9 492.8 331.8 493.5 332.8 494.2 332.9 494.9 332.9 495.6 332.0 496.3 332.2 497.0 332.1 497.7 332.1 498.4 332.4 499.1 331.9 499.8 331.3 500.5 332.0 501.2 331.5 501.9 331.7 502.6 332.0 503.3 331.1 504.0 332.3 504.7 332.2 505.4 332.1 506.1 332.5 506.8 332.9 507.5 332.9 508.2 333.8 508.9 333.5 509.6 334.6 510.3 335.2 511.0 335.1 511.7 335.5 512.4 336.2 513.1 336.3 513.8 335.4 514.5 336.5 515.2 336.5 515.9 335.9 516.6 336.5 517.3 336.5 518.0 336.4 518.7 337.2 519.4 337.9 520.1 337.3 520.8 338.2 521.5 338.1 522.2 337.5 522.9 338.7 523.6 338.5 524.3 339.1 525.0 338.9 525.7 339.0 526.4 338.5 527.1 339.2 527.8 339.5 528.5 339.4 529.2 338.9 529.9 339.4 530.6 339.1 531.3 338.7 532.0 338.7 532.7 338.9 533.4 339.2 534.1 339.4 534.8 340.0 535.5 340.4 536.2 340.4 536.9 340.4 537.6 340.9 538.3 340.5 539.0 341.0 539.7 341.6 540.4 341.4 541.1 341.3 541.8 342.6 542.5 342.5 543.2 342.3 543.9 342.2 544.6 342.2 545.3 342.0 546.0 341.3 546.7 340.7 547.4 340.8 548.1 341.4 548.8 340.2 549.5 340.4 550.2 339.8 550.9 339.8 551.6 339.8 552.3 340.2 553.0 340.0 553.7 339.8 554.4 340.0 555.1 340.2 555.8 340.7 556.5 340.2 557.2 340.2 557.9 340.7 558.6 340.4 559.3 340.6 560.0 339.5 560.7 339.7 561.4 339.5 562.1 338.7 562.8 339.8 563.5 338.5 564.2 338.1 564.9 338.4 565.6 337.8 566.3 338.3 567.0 337.8 567.7 337.3 568.4 337.0 569.1 337.8 569.8 337.0 570.5 337.6 571.2 336.9 571.9 337.4 572.6 336.3 573.3 336.0 574.0 335.8 574.7 336.3 575.4 335.8 576.1 335.2 576.8 334.6 577.5 335.2 578.2 335.4 578.9 334.6 579.6 333.7 580.3 333.6 581.0 333.5 581.7 333.5 582.4 333.1 583.1 333.0 583.8 333.7 584.5 333.9 585.2 332.8 585.9 333.8 586.6 333.1 587.3 333.6 588.0 333.9 588.7 334.0 589.4 332.8 590.1 333.2 590.8 333.7 591.5 334.3 592.2 333.1 592.9 333.5 593.6 334.2 594.3 333.1 595.0 333.4 595.7 333.3 596.4 333.7 597.1 334.0 597.8 332.9 598.5 333.6 599.2 333.5 599.9 333.6 600.6 333.1 601.3 333.6 602.0 332.8 602.7 332.8 603.4 332.5 604.1 333.2 604.8 332.7 605.5 332.4 606.2 332.2 606.9 332.9 607.6 333.0 608.3 333.7 609.0 333.7 609.7 334.4 610.4 334.5 611.1 335.8 611.8 335.3 612.5 335.9 613.2 336.1 613.9 335.7 614.6 334.7 615.3 334.6 616.0 335.2 616.7 334.7 617.4 335.1 618.1 335.1 618.8 334.6 619.5 335.2 620.2 335.1 620.9 334.5 621.6 334.6 622.3 334.3 623.0 334.8 623.7 335.6 624.4 334.5 625.1 335.3 625.8 334.8 626.5 334.8 627.2 335.7 627.9 335.3 628.6 335.1 629.3 335.4 630.0 336.2 630.7 336.2 631.4 335.4 632.1 335.5 632.8 336.3 633.5 335.1 634.2 335.4 634.9 335.1 635.6 335.4 636.3 335.5 637.0 336.2 637.7 336.2 638.4 336.2 639.1 336.6 639.8 336.9 641.4 337.7 642.9 339.4 644.4 339.8 645.9 340.2 647.4 340.5 648.9 340.1 650.4 341.7 651.9 340.3 653.4 340.9 654.9 340.7 656.4 341.6 657.9 342.3 659.4 343.7 660.9 343.0 662.4 342.7 663.9 343.4 665.4 345.2 666.9 343.4 668.4 344.8 669.9 344.5 671.4 345.4 672.9 345.1 674.4 346.2 675.9 346.2 677.4 347.0 678.9 347.7 680.4 347.1 681.9 346.3 683.4 346.2 684.9 348.2 686.4 347.5 687.9 347.1 689.4 349.1 690.9 348.7 692.4 349.4 693.9 350.2 695.4 348.6 696.9 349.0 698.4 351.0 699.9 348.9 701.4 351.1 702.9 349.2 704.4 351.2 705.9 351.4 707.4 352.4 708.9 352.2 710.4 351.6 711.9 351.1 713.4 351.5 714.9 353.2 716.4 353.6 717.9 352.7 719.4 355.9 720.9 355.1 722.4 356.2 723.9 355.2 725.4 355.9 726.9 355.8 728.4 357.4 729.9 357.8 731.4 358.4 732.9 358.2 734.4 360.5 735.9 360.9 737.4 357.6 738.9 358.9 740.4 358.1 741.9 360.8 743.4 362.6 744.9 359.2 746.4 362.1 747.9 360.0 749.4 358.9 750.9 362.7 752.4 361.0 753.9 360.7 755.4 362.5 756.9 362.0 758.4 363.4 759.9 364.1 761.4 364.6 762.9 366.0 764.4 364.8 765.9 364.0 767.4 364.0 768.9 364.2 770.4 366.3 771.9 365.5 773.4 368.4 774.9 366.7 776.4 368.1 777.9 369.9 779.4 364.6 780.9 364.6 782.4 365.6 783.9 367.3 785.4 368.5 786.9 369.4 788.4 367.0 789.9 370.5 791.4 364.7 792.9 369.7 794.4 366.1 795.9 370.2 797.4 365.2 798.9 370.9 800.4 369.9 801.9 371.6 803.4 369.4 804.9 367.2 806.4 372.2 807.9 369.3 809.4 367.4 810.9 370.8 812.4 370.4 813.0 370.5" class="c2"/>
<path d="M125.6 572.5 126.5 592.6 127.9 585.5 128.8 581.6 129.6 578.4 130.8 587.9 132.0 589.1 133.1 591.4 134.3 591.9 135.5 592.6 136.7 593.3 137.9 595.0 138.8 590.8 139.8 587.9 140.9 588.3 142.1 589.1 143.0 593.8 143.8 597.3 145.0 596.0 146.2 593.8 147.3 595.3 148.5 596.2 149.7 596.4 150.9 597.3 152.1 596.2 153.3 595.0 154.4 597.0 155.6 599.7 156.8 611.5 158.0 593.8 159.2 593.9 160.4 595.0 161.5 600.3 162.7 606.8 163.9 612.3 165.1 618.6 166.3 624.0 167.5 628.1 168.3 630.3 169.1 631.7 170.5 635.2 171.4 641.6 172.2 647.0 173.0 641.5 173.8 635.2 174.8 636.0 175.7 637.6 176.9 634.3 178.1 631.7 179.3 632.4 180.5 632.8 181.7 637.9 182.8 642.3 183.8 639.3 184.7 635.2 185.6 637.5 186.4 638.8 187.2 641.1 188.0 644.7 189.0 649.0 189.9 653.0 190.9 645.5 191.8 637.6 192.7 639.4 193.5 641.1 194.7 636.5 195.9 632.8 197.0 636.4 198.2 639.9 199.4 638.8 200.6 638.8 201.8 632.9 203.0 625.7 204.1 628.6 205.3 630.5 206.5 625.2 207.7 619.8 208.9 620.7 210.1 622.2 211.2 639.9 212.2 633.4 213.1 625.7 214.3 635.3 215.5 644.7 216.7 635.2 217.9 624.6 218.7 632.7 219.5 639.9 220.7 644.1 221.9 648.2 223.1 641.6 224.3 635.2 225.4 639.5 226.6 643.5 227.8 640.4 229.0 637.6 230.2 641.2 231.4 645.9 232.5 643.2 233.7 641.1 234.9 642.7 236.1 643.5 237.3 636.9 238.5 631.7 239.6 628.1 240.8 625.7 242.0 623.5 243.2 621.0 244.4 626.0 245.6 631.7 246.7 628.7 247.9 625.7 249.1 628.7 250.3 631.7 251.5 625.5 252.7 619.8 253.8 617.0 255.0 612.7 256.2 618.8 257.4 625.7 258.6 622.7 259.8 619.8 260.9 617.6 262.1 616.3 263.3 620.0 264.5 623.4 265.7 621.9 266.9 621.0 268.0 625.5 269.2 630.5 270.4 633.2 271.6 635.2 272.8 640.9 274.0 647.0 275.1 642.4 276.3 637.6 277.5 634.6 278.7 630.5 279.9 624.6 281.1 619.8 282.2 622.2 283.4 625.7 284.6 632.5 285.8 639.9 287.0 635.6 288.2 630.5 289.3 629.5 290.5 628.1 291.7 630.7 292.9 634.0 294.1 630.8 295.3 628.1 296.2 627.7 297.1 628.1 298.0 628.6 298.9 628.6 299.8 630.2 300.7 630.5 301.5 632.8 302.4 634.7 303.3 636.1 304.2 637.6 305.1 636.4 306.0 633.3 306.9 632.0 307.8 630.5 308.6 631.1 309.5 630.9 310.4 630.3 311.3 630.5 312.5 628.7 313.7 625.7 314.9 629.5 316.0 632.8 317.2 636.8 318.4 639.9 319.3 633.1 320.3 626.9 321.2 627.7 322.2 629.2 323.1 630.5 324.3 628.8 325.5 628.1 326.4 624.4 327.4 621.0 328.6 627.6 329.8 632.8 330.6 629.6 331.4 626.9 332.6 623.9 333.8 622.2 335.0 619.2 336.2 617.5 337.3 615.2 338.5 613.9 339.7 614.9 340.9 615.1 342.1 611.3 343.3 608.0 344.1 604.1 344.9 600.9 346.3 596.2 347.2 599.7 348.0 604.4 349.2 608.7 350.4 611.5 351.5 610.2 352.7 609.2 353.9 607.6 355.1 606.8 356.3 603.2 357.5 600.9 358.6 599.7 359.8 599.7 361.0 601.0 362.2 603.3 363.2 600.0 364.2 595.7 365.3 592.6 366.1 594.3 366.9 597.3 368.1 598.5 369.3 599.7 370.5 601.1 371.7 603.3 372.8 605.7 374.0 606.8 374.9 602.1 375.7 598.5 376.9 597.4 378.0 596.2 379.2 595.9 380.4 595.0 381.6 597.2 382.8 599.7 384.2 591.4 385.4 595.7 386.6 598.5 387.8 597.9 388.9 597.3 390.1 594.6 391.3 592.6 392.2 591.7 393.2 590.4 394.1 590.2 395.3 589.5 396.5 589.1 397.7 587.5 398.9 586.7 400.1 586.6 401.2 585.5 402.4 585.4 403.6 584.3 404.8 584.9 406.0 585.5 407.2 583.7 408.3 583.1 409.5 582.2 410.7 582.0 411.9 582.2 413.1 583.1 414.3 581.5 415.4 580.8 416.6 581.0 417.8 582.0 419.0 583.1 420.2 583.1 421.4 583.2 422.5 584.3 423.7 584.3 424.9 585.5 426.1 587.3 427.3 587.9 428.5 587.4 429.6 586.7 430.8 590.9 432.0 593.8 433.2 590.7 434.4 587.9 435.6 590.8 436.7 592.6 437.9 593.4 439.1 593.8 440.0 593.9 440.9 593.5 441.8 592.9 442.7 592.6 443.6 592.3 444.4 592.8 445.3 594.0 446.2 593.8 447.1 594.3 448.0 594.4 448.9 593.6 449.8 593.8 450.7 594.3 451.5 594.8 452.4 594.9 453.3 595.0 454.2 595.7 455.1 595.6 456.0 596.1 456.9 596.2 457.8 596.7 458.6 596.4 459.5 597.6 460.4 597.3 461.3 597.7 462.2 596.1 463.1 597.1 464.0 596.2 464.9 596.5 465.7 595.8 466.6 594.6 467.5 595.0 468.4 595.5 469.3 594.4 470.2 595.6 471.1 595.0 472.0 595.5 472.8 594.9 473.7 595.4 474.6 596.2 475.5 596.0 476.4 595.7 477.3 595.6 478.2 595.0 479.1 595.6 479.9 594.6 480.8 594.3 481.7 595.0 482.6 595.4 483.4 594.0 484.3 595.1 485.2 593.9 486.0 594.7 486.9 594.6 487.7 594.6 488.6 594.0 489.5 593.8 490.4 594.1 491.4 592.9 492.3 593.3 493.3 592.6 494.2 592.6 495.1 593.9 496.1 594.4 497.0 594.7 498.0 595.5 498.9 596.2 499.9 595.3 500.8 595.0 501.8 595.6 502.7 595.2 503.7 595.0 504.6 595.0 505.6 594.2 506.5 593.0 507.5 592.9 508.4 592.6 509.3 593.5 510.3 593.6 511.2 593.3 512.2 595.0 513.1 595.0 514.1 595.2 515.0 593.9 516.0 594.3 516.9 593.9 517.9 593.8 518.8 593.9 519.8 592.9 520.7 592.4 521.7 592.4 522.6 592.1 523.6 594.3 524.5 594.6 525.4 596.1 526.4 598.4 527.3 599.7 528.2 599.1 529.1 597.4 530.0 596.1 530.9 595.0 531.7 595.6 532.6 595.7 533.4 594.9 534.3 596.2 535.1 595.4 536.0 595.7 536.8 596.2 537.8 597.1 538.7 597.0 539.6 598.0 540.6 597.6 541.5 598.5 542.5 599.8 543.4 599.5 544.4 600.2 545.3 601.4 546.3 602.1 547.2 601.1 548.2 600.7 549.1 600.5 550.1 599.5 551.0 598.5 552.0 597.6 552.9 597.8 553.8 597.9 554.8 597.6 555.7 597.3 556.7 598.1 557.6 598.3 558.6 598.2 559.5 598.9 560.5 599.7 561.4 600.7 562.4 600.5 563.3 601.5 564.3 602.3 565.2 602.1 566.2 601.8 567.1 601.4 568.0 600.8 569.0 599.9 569.9 599.7 570.9 600.5 571.8 600.1 572.8 601.0 573.7 600.4 574.7 600.9 575.6 601.2 576.6 600.8 577.5 600.3 578.5 599.9 579.4 599.7 580.4 598.7 581.3 599.1 582.2 598.1 583.2 598.0 584.1 597.3 585.1 597.5 586.0 598.2 587.0 599.0 587.9 600.6 588.9 600.9 589.8 600.2 590.8 601.0 591.7 600.0 592.7 600.0 593.6 599.7 594.6 600.2 595.5 601.3 596.4 601.3 597.4 602.4 598.3 603.3 599.3 604.6 600.2 604.2 601.2 605.6 602.1 605.9 603.1 606.8 604.0 606.3 605.0 605.7 605.9 605.4 606.9 606.5 607.8 605.6 608.7 606.7 609.6 607.2 610.5 607.8 611.4 608.0 612.5 602.1 613.7 595.0 614.9 599.2 616.1 604.4 617.3 602.2 618.5 599.7 619.3 600.0 620.2 600.4 621.1 601.2 622.0 600.9 623.0 601.7 623.9 602.5 624.9 601.8 625.8 603.0 626.7 603.3 627.7 603.5 628.6 603.6 629.6 603.4 630.5 603.7 631.5 603.3 632.4 603.9 633.4 605.7 634.3 606.0 635.3 607.2 636.2 608.0 637.4 605.6 638.6 602.1 639.5 602.8 640.5 602.8 641.4 603.1 642.4 603.7 643.3 604.4 644.3 604.4 645.2 604.7 646.2 604.3 647.1 603.4 648.0 603.3 648.9 602.8 649.8 603.0 650.6 601.9 651.5 601.7 652.3 600.8 653.2 601.1 654.3 600.3 655.3 600.5 656.4 600.1 657.5 598.2 658.5 595.8 659.6 599.2 660.7 602.2 661.7 604.7 662.8 607.5 663.8 606.0 664.9 603.4 666.0 601.1 667.0 599.9 668.1 599.1 669.2 599.0 670.2 602.3 671.3 604.3 672.4 602.9 673.4 600.1 674.5 602.4 675.6 603.8 676.6 605.4 677.7 604.1 678.8 602.7 679.8 602.2 680.7 602.3 681.5 602.7 682.4 604.1 683.2 604.4 684.1 604.3 684.9 604.9 685.8 604.3 686.6 604.6 687.5 604.9 688.3 605.4 689.2 608.7 690.1 610.7 691.5 605.4 692.6 606.0 693.7 607.9 694.7 608.6 695.8 608.5 696.9 607.9 697.9 607.5 699.0 607.8 700.1 606.5 701.1 606.5 702.2 606.5 703.3 606.0 704.3 606.5 705.4 604.8 706.5 603.7 707.5 603.3 708.6 603.4 709.7 603.4 710.7 604.3 711.8 605.8 712.8 608.6 714.3 616.5 715.2 613.7 716.0 609.7 716.5 603.3 717.7 595.8" class="c3"/>
<path d="M132.2 752 L132.3 765 L134.8 768.7 L138 771.6 L141 773.3 L144 773.4 L145.2 773.7 146.2 774.5 147.2 774.5 148.2 775.7 149.2 777.6 150.2 780.0 151.2 783.3 152.2 786.0 153.2 790.3 154.2 795.6 155.2 799.4 156.2 802.4 157.2 806.0 158.2 809.9 159.2 813.5 160.2 817.2 161.2 820.9 162.2 823.5 163.2 824.9 164.2 832.2 165.2 841.6 166.2 851.0 167.2 860.8 168.2 869.4 169.2 876.3 170.2 884.1 171.2 889.7 172.2 894.3 173.2 899.4 174.2 903.8 175.2 907.1 176.2 913.3 177.2 919.1 178.2 924.8 179.2 930.1 180.2 934.0 181.2 937.2 182.2 940.6 183.2 944.2 184.2 946.8 185.2 949.8 186.2 952.8 187.2 955.7 188.2 957.4 189.2 958.4 190.2 959.6 191.2 960.1 192.2 961.4 193.2 961.7 194.2 962.7 195.2 963.1 196.2 960.4 197.2 958.9 198.2 957.0 199.2 954.0 200.2 951.7 201.2 949.8 202.2 947.3 203.2 944.2 204.2 943.8 205.2 943.0 206.2 941.3 207.2 940.7 208.2 939.2 209.2 938.5 210.2 937.7 211.2 937.3 212.2 937.4 213.2 936.8 214.2 937.0 215.2 938.1 216.2 938.5 217.2 939.0 218.2 939.7 219.2 941.7 220.2 942.9 221.2 941.9 222.2 940.7 223.2 938.6 224.2 938.7 225.2 940.0 226.2 941.7 227.2 943.1 228.2 944.4 229.2 945.4 230.2 945.4 231.2 947.3 232.2 948.6 233.2 951.2 234.2 952.9 235.2 954.3 236.2 956.2 237.2 957.4 238.2 959.5 239.2 960.9 240.2 962.4 241.2 964.6 242.2 965.4 243.2 966.7 244.2 968.5 245.2 969.2 246.2 970.4 247.2 971.0 248.2 972.6 249.2 973.1 250.2 973.9 251.2 975.7 252.2 976.0 253.2 978.1 254.2 979.4 255.2 980.4 256.2 981.0 257.2 981.7 258.2 982.5 259.2 983.3 260.2 984.2 261.2 985.2 262.2 985.3 263.2 985.8 264.2 986.0 265.2 985.2 266.2 984.9 267.2 985.0 268.2 984.9 269.2 984.1 270.2 984.3 271.2 984.3 272.2 984.1 273.2 983.6 274.2 983.2 275.2 981.6 276.2 981.1 277.2 980.1 278.2 979.2 279.2 977.9 280.2 976.5 281.2 975.5 282.2 974.9 283.2 973.6 284.2 973.0 285.2 971.3 286.2 970.6 287.2 968.8 288.2 967.3 289.2 966.2 290.2 965.3 291.2 964.2 292.2 962.8 293.2 961.3 294.2 960.3 295.2 959.5 296.2 957.9 297.2 957.0 298.2 954.9 299.2 954.6 300.2 953.2 301.2 951.7 302.2 950.4 303.2 949.1 304.2 948.2 305.2 945.3 306.2 943.6 307.2 942.9 308.2 943.2 309.2 944.0 310.2 944.4 311.2 942.9 312.2 942.4 313.2 941.2 314.2 941.2 315.2 942.3 316.2 942.8 317.2 944.3 318.2 945.0 319.2 946.3 320.2 946.6 321.2 947.8 322.2 948.2 323.2 948.6 324.2 949.3 325.2 948.6 326.2 949.1 327.2 949.1 328.2 949.2 329.2 949.0 330.2 949.6 331.2 950.5 332.2 951.8 333.2 951.7 334.2 951.4 335.2 951.6 336.2 951.5 337.2 951.4 338.2 950.8 339.2 951.2 340.2 950.6 341.2 950.6 342.2 948.8 343.2 948.5 344.2 947.0 345.2 946.3 346.2 945.3 347.2 944.2 348.2 942.5 349.2 941.8 350.2 940.5 351.2 939.9 352.2 938.2 353.2 937.2 354.2 936.3 355.2 935.4 356.2 935.3 357.2 934.2 358.2 932.5 359.2 931.7 360.2 930.3 361.2 929.3 362.2 928.5 363.2 928.2 364.2 927.2 365.2 926.6 366.2 926.2 367.2 925.2 368.2 924.6 369.2 924.3 370.2 922.8 371.2 922.1 372.2 922.0 373.2 920.5 374.2 920.0 375.2 919.8 376.2 918.2 377.2 916.6 378.2 915.1 379.2 913.7 380.2 911.7 381.2 910.1 382.2 908.5 383.2 906.5 384.2 906.2 385.2 906.4 386.2 906.6 387.2 906.5 388.2 904.6 389.2 901.8 390.2 900.1 391.2 898.3 392.2 896.8 393.2 895.0 394.2 893.5 395.2 892.6 396.2 890.9 397.2 889.8 398.2 889.2 399.2 888.7 400.2 888.2 401.2 887.5 402.2 886.7 403.2 885.8 404.2 885.9 405.2 886.2 406.2 886.4 407.2 887.1 408.2 887.1 409.2 887.6 410.2 887.6 411.2 887.1 412.2 887.6 413.2 887.3 414.2 887.3 415.2 887.3 416.2 887.4 417.2 887.4 418.2 887.3 419.2 887.1 420.2 887.6 421.2 887.7 422.2 887.6 423.2 888.3 424.2 888.5 425.2 889.0 426.2 888.7 427.2 889.4 428.2 889.3 429.2 889.0 430.2 889.7 431.2 889.5 432.2 889.9 433.2 889.4 434.2 889.4 435.2 890.2 436.2 889.4 437.2 889.7 438.2 890.0 439.2 890.3 440.2 891.3 441.2 891.8 442.2 891.8 443.2 891.9 444.2 892.6 445.2 892.6 446.2 892.6 447.2 893.4 448.2 893.5 449.2 893.7 450.2 894.1 451.2 894.5 452.2 894.5 453.2 895.0 454.2 895.4 455.2 895.3 456.2 894.4 457.2 894.2 458.2 893.0 459.2 893.5 460.2 893.9 461.2 893.8 462.2 894.2 463.2 894.0 464.2 893.4 465.2 893.0 466.2 893.1 467.2 893.1 468.2 892.5 469.2 892.3 470.2 892.3 471.2 891.7 472.2 891.6 473.2 891.2 474.2 891.2 475.2 890.0 476.2 889.8 477.2 890.0 478.2 889.7 479.2 888.9 480.2 888.8 481.2 889.3 482.2 890.0 483.2 890.7 484.2 889.7 485.2 888.9 486.2 888.4 487.2 887.4 488.2 887.6 489.2 887.6 490.2 887.4 491.2 887.0 492.2 886.7 493.2 886.2 494.2 886.8 495.2 886.4 496.2 886.4 497.2 886.4 498.2 886.8 499.2 886.6 500.2 887.1 501.2 887.4 502.2 886.8 503.2 887.2 504.2 887.9 505.2 888.1 506.2 888.5 507.2 888.0 508.2 888.6 509.2 889.1 510.2 888.9 511.2 889.2 512.2 889.6 513.2 889.1 514.2 889.4 515.2 890.6 516.2 890.8 517.2 890.9 518.2 891.9 519.2 891.9 520.2 892.3 521.2 892.9 522.2 893.2 523.2 894.0 524.2 894.9 525.2 895.1 526.2 896.0 527.2 895.7 528.2 896.7 529.2 897.5 530.2 898.8 531.2 899.4 532.2 900.7 533.2 901.0 534.2 901.6 535.2 902.3 536.2 902.8 537.2 903.4 538.2 903.2 539.2 903.9 540.2 904.9 541.2 904.9 542.2 905.9 543.2 907.6 544.2 908.9 545.2 909.2 546.2 908.2 547.2 907.0 548.2 908.0 549.2 908.3 550.2 908.7 551.2 909.6 552.2 910.3 553.2 910.1 554.2 910.1 555.2 910.6 556.2 911.0 557.2 912.1 558.2 912.6 559.2 913.7 560.2 912.5 561.2 911.4 562.2 911.0 563.2 910.4 564.2 911.4 565.2 912.2 566.2 913.0 567.2 914.0 568.2 914.7 569.2 914.7 570.2 915.3 571.2 914.9 572.2 915.3 573.2 914.9 574.2 914.3 575.2 915.0 576.2 914.8 577.2 914.9 578.2 915.1 579.2 916.1 580.2 916.2 581.2 916.2 582.2 916.6 583.2 917.0 584.2 916.7 585.2 917.6 586.2 918.0 587.2 918.6 588.2 918.3 589.2 919.0 590.2 918.7 591.2 918.9 592.2 918.3 593.2 918.4 594.2 918.7 595.2 918.3 596.2 918.6 597.2 919.1 598.2 918.5 599.2 919.0 600.2 918.0 601.2 917.8 602.2 917.2 603.2 917.3 604.2 916.9 605.2 917.0 606.2 916.3 607.2 917.3 608.2 917.9 609.2 918.4 610.2 918.7 611.2 919.1 612.2 919.6 613.2 919.6 614.2 920.7 615.2 920.6 616.2 921.3 617.2 920.9 618.2 921.5 619.2 921.9 620.2 921.9 621.2 921.7 622.2 921.3 623.2 921.7 624.2 921.7 625.2 922.3 626.2 922.4 627.2 922.5 628.2 922.6 629.2 921.9 630.2 921.5 631.2 921.3 632.2 920.7 633.2 920.5 634.2 920.9 635.2 921.2 636.2 922.2 637.2 922.7 638.2 922.8 639.2 923.4 640.2 922.7 641.2 923.3 642.2 923.2 643.2 923.4 644.2 923.1 645.2 923.8 646.2 924.1 647.2 923.5 648.2 923.9 649.2 924.2 650.2 924.1 651.2 924.4 652.2 924.4 653.2 924.2 654.2 924.7 655.2 924.9 656.2 925.2 657.2 926.0 658.2 926.7 659.2 927.2 660.2 927.4 661.2 928.0 662.2 928.7 663.2 928.9 664.2 928.8 665.2 929.9 666.2 930.6 667.2 931.2 668.2 932.3 669.2 934.3 670.2 935.8 671.2 937.2 672.2 938.7 673.2 938.3 674.2 937.6 675.2 937.7 676.2 936.9 677.2 934.5 678.2 934.1 679.2 934.0 680.2 934.2 681.2 934.2 682.2 935.1 683.2 936.9 684.2 936.8 685.2 935.7 686.2 934.8 687.2 935.2 688.2 935.1 689.2 935.6 690.2 935.3 691.2 936.1 692.2 936.0 693.2 935.8 694.2 935.4 695.2 935.0 696.2 933.9 697.2 933.7 698.2 933.5 699.2 933.2 700.2 932.3 701.2 932.9 702.2 932.9 703.2 933.3 704.2 932.8 705.2 933.2 706.2 933.4 707.2 933.9 708.2 934.3 709.2 934.9 710.2 936.3 711.2 938.7 712.2 940.5 713.2 938.6 714.2 936.3 715.2 935.9 716.2 935.5 717.2 934.8 718.2 935.6 719.2 936.1 720.2 936.5 720.5 937.2" class="c4"/>
<path d="M137.2 760.4 L139.5 759.8 L141.9 762.2 L143.1 766.9 L143.7 772.2 L140.7 773.4 L137.8 771.6 L134.8 768.7 L133.5 765.5 L136 766 Z" class="c4b"/>
<text x="97.46" y="207.58" class="tl" textLength="51.67" lengthAdjust="spacingAndGlyphs">4000</text>
<text x="187.72" y="208.06" class="tl" textLength="52.56" lengthAdjust="spacingAndGlyphs">4500</text>
<text x="277.51" y="208.54" class="tl" textLength="52.56" lengthAdjust="spacingAndGlyphs">5000</text>
<text x="366.28" y="208.12" class="tl" textLength="52.56" lengthAdjust="spacingAndGlyphs">5500</text>
<text x="455.05" y="208.60" class="tl" textLength="52.56" lengthAdjust="spacingAndGlyphs">6000</text>
<text x="544.28" y="209.08" class="tl" textLength="52.56" lengthAdjust="spacingAndGlyphs">6500</text>
<text x="633.49" y="209.56" class="tl" textLength="52.56" lengthAdjust="spacingAndGlyphs">7000</text>
<text x="721.78" y="210.04" class="tl" textLength="52.56" lengthAdjust="spacingAndGlyphs">7500</text>
<text x="811.01" y="209.62" class="tl" textLength="52.58" lengthAdjust="spacingAndGlyphs">8000</text>
<text x="96.48" y="512.85" class="tl" textLength="51.65" lengthAdjust="spacingAndGlyphs">4000</text>
<text x="187.29" y="512.81" class="tl" textLength="51.67" lengthAdjust="spacingAndGlyphs">4500</text>
<text x="277.63" y="513.67" class="tl" textLength="52.56" lengthAdjust="spacingAndGlyphs">5000</text>
<text x="366.49" y="513.64" class="tl" textLength="52.56" lengthAdjust="spacingAndGlyphs">5500</text>
<text x="456.26" y="513.60" class="tl" textLength="52.56" lengthAdjust="spacingAndGlyphs">6000</text>
<text x="545.59" y="513.56" class="tl" textLength="52.56" lengthAdjust="spacingAndGlyphs">6500</text>
<text x="634.89" y="514.42" class="tl" textLength="52.58" lengthAdjust="spacingAndGlyphs">7000</text>
<text x="724.18" y="514.39" class="tl" textLength="52.56" lengthAdjust="spacingAndGlyphs">7500</text>
<text x="813.51" y="514.35" class="tl" textLength="52.56" lengthAdjust="spacingAndGlyphs">8000</text>
<text x="97.50" y="738.31" class="tl" textLength="51.65" lengthAdjust="spacingAndGlyphs">4000</text>
<text x="188.42" y="737.81" class="tl" textLength="51.65" lengthAdjust="spacingAndGlyphs">4500</text>
<text x="278.87" y="738.21" class="tl" textLength="52.58" lengthAdjust="spacingAndGlyphs">5000</text>
<text x="367.86" y="738.62" class="tl" textLength="52.56" lengthAdjust="spacingAndGlyphs">5500</text>
<text x="457.74" y="738.12" class="tl" textLength="52.56" lengthAdjust="spacingAndGlyphs">6000</text>
<text x="547.18" y="738.52" class="tl" textLength="52.56" lengthAdjust="spacingAndGlyphs">6500</text>
<text x="636.60" y="738.92" class="tl" textLength="52.56" lengthAdjust="spacingAndGlyphs">7000</text>
<text x="725.11" y="738.43" class="tl" textLength="52.56" lengthAdjust="spacingAndGlyphs">7500</text>
<text x="815.00" y="738.83" class="tl" textLength="51.65" lengthAdjust="spacingAndGlyphs">8000</text>
<text x="98.52" y="1044.62" class="tl" textLength="51.68" lengthAdjust="spacingAndGlyphs">4000</text>
<text x="189.84" y="1044.73" class="tl" textLength="51.65" lengthAdjust="spacingAndGlyphs">4500</text>
<text x="279.80" y="1044.85" class="tl" textLength="52.56" lengthAdjust="spacingAndGlyphs">5000</text>
<text x="369.18" y="1044.96" class="tl" textLength="52.56" lengthAdjust="spacingAndGlyphs">5500</text>
<text x="458.57" y="1045.08" class="tl" textLength="52.56" lengthAdjust="spacingAndGlyphs">6000</text>
<text x="548.41" y="1045.19" class="tl" textLength="52.58" lengthAdjust="spacingAndGlyphs">6500</text>
<text x="638.24" y="1045.31" class="tl" textLength="52.56" lengthAdjust="spacingAndGlyphs">7000</text>
<text x="727.15" y="1045.42" class="tl" textLength="52.56" lengthAdjust="spacingAndGlyphs">7500</text>
<text x="816.99" y="1045.54" class="tl" textLength="52.56" lengthAdjust="spacingAndGlyphs">8000</text>
<text x="72.48" y="21.56" class="tl" textLength="24.70" lengthAdjust="spacingAndGlyphs">30</text>
<text x="72.35" y="49.06" class="tl" textLength="24.70" lengthAdjust="spacingAndGlyphs">20</text>
<text x="72.99" y="76.56" class="tl" textLength="23.16" lengthAdjust="spacingAndGlyphs">10</text>
<text x="79.01" y="104.06" class="tl" textLength="12.44" lengthAdjust="spacingAndGlyphs">0</text>
<text x="65.12" y="131.56" class="tl" textLength="40.62" lengthAdjust="spacingAndGlyphs">−10</text>
<text x="65.45" y="159.06" class="tl" textLength="39.64" lengthAdjust="spacingAndGlyphs">−20</text>
<text x="65.77" y="186.56" class="tl" textLength="40.58" lengthAdjust="spacingAndGlyphs">−30</text>
<text x="71.52" y="227.08" class="tl" textLength="28.76" lengthAdjust="spacingAndGlyphs">1.5</text>
<text x="80.43" y="314.94" class="tl" textLength="9.79" lengthAdjust="spacingAndGlyphs">1</text>
<text x="76.12" y="403.71" class="tl" textLength="18.15" lengthAdjust="spacingAndGlyphs">.5</text>
<text x="78.53" y="491.58" class="tl" textLength="12.44" lengthAdjust="spacingAndGlyphs">0</text>
<text x="73.68" y="580.81" class="tl" textLength="23.16" lengthAdjust="spacingAndGlyphs">10</text>
<text x="79.27" y="635.31" class="tl" textLength="11.33" lengthAdjust="spacingAndGlyphs">0</text>
<text x="65.85" y="689.81" class="tl" textLength="40.62" lengthAdjust="spacingAndGlyphs">−10</text>
<text x="71.00" y="757.56" class="tl" textLength="29.84" lengthAdjust="spacingAndGlyphs">2.5</text>
<text x="79.50" y="811.13" class="tl" textLength="12.95" lengthAdjust="spacingAndGlyphs">2</text>
<text x="72.42" y="863.80" class="tl" textLength="27.80" lengthAdjust="spacingAndGlyphs">1.5</text>
<text x="81.41" y="917.37" class="tl" textLength="9.79" lengthAdjust="spacingAndGlyphs">1</text>
<text x="77.63" y="970.95" class="tl" textLength="18.15" lengthAdjust="spacingAndGlyphs">.5</text>
<text x="81.02" y="1023.62" class="tl" textLength="11.41" lengthAdjust="spacingAndGlyphs">0</text>
<text transform="translate(24.63,131.44) rotate(-90) scale(0.9076,1)" text-anchor="middle" style="font-family:&quot;Liberation Serif&quot;,serif;font-style:italic;stroke:#000;stroke-width:0.30px;font-size:22.64px">V</text>
<text transform="translate(29.32,117.88) rotate(-90) scale(1.3695,1)" text-anchor="middle" style="font-family:&quot;Liberation Serif&quot;,serif;font-style:italic;font-size:33.29px">/</text>
<text transform="translate(24.63,106.13) rotate(-90) scale(0.7160,1)" text-anchor="middle" style="font-family:&quot;Liberation Serif&quot;,serif;font-style:italic;stroke:#000;stroke-width:0.30px;font-size:22.64px">I</text>
<text transform="translate(24.07,86.55) rotate(-90) scale(0.8534,1)" text-anchor="middle" style="font-family:&quot;Liberation Serif&quot;,serif;font-size:23.91px">(</text>
<text transform="translate(24.27,73.50) rotate(-90) scale(0.7210,1)" text-anchor="middle" style="font-family:&quot;Liberation Serif&quot;,serif;stroke:#000;stroke-width:0.30px;font-size:22.14px">%</text>
<text transform="translate(23.96,62.05) rotate(-90) scale(1.0058,1)" text-anchor="middle" style="font-family:&quot;Liberation Serif&quot;,serif;font-size:24.26px">)</text>
<text transform="translate(24.63,662.64) rotate(-90) scale(0.9076,1)" text-anchor="middle" style="font-family:&quot;Liberation Serif&quot;,serif;font-style:italic;stroke:#000;stroke-width:0.30px;font-size:22.64px">V</text>
<text transform="translate(29.32,649.08) rotate(-90) scale(1.3695,1)" text-anchor="middle" style="font-family:&quot;Liberation Serif&quot;,serif;font-style:italic;font-size:33.29px">/</text>
<text transform="translate(24.63,637.33) rotate(-90) scale(0.7160,1)" text-anchor="middle" style="font-family:&quot;Liberation Serif&quot;,serif;font-style:italic;stroke:#000;stroke-width:0.30px;font-size:22.64px">I</text>
<text transform="translate(24.07,617.75) rotate(-90) scale(0.8534,1)" text-anchor="middle" style="font-family:&quot;Liberation Serif&quot;,serif;font-size:23.91px">(</text>
<text transform="translate(24.27,604.70) rotate(-90) scale(0.7210,1)" text-anchor="middle" style="font-family:&quot;Liberation Serif&quot;,serif;stroke:#000;stroke-width:0.30px;font-size:22.14px">%</text>
<text transform="translate(23.96,593.25) rotate(-90) scale(1.0058,1)" text-anchor="middle" style="font-family:&quot;Liberation Serif&quot;,serif;font-size:24.26px">)</text>
<text transform="translate(24.47,298.56) rotate(-90) scale(0.9273,1)" text-anchor="middle" style="font-family:&quot;Liberation Sans&quot;,sans-serif;stroke:#000;stroke-width:0.45px;font-size:22.56px">)</text>
<text transform="translate(12.40,311.69) rotate(-90) scale(0.7839,1)" text-anchor="middle" style="font-family:&quot;Liberation Sans&quot;,sans-serif;font-weight:bold;stroke:#000;stroke-width:0.45px;font-size:15.28px">15</text>
<text transform="translate(14.15,323.20) rotate(-90) scale(0.7329,1)" text-anchor="middle" style="font-family:&quot;Liberation Sans&quot;,sans-serif;stroke:#000;stroke-width:0.45px;font-size:20.77px">−</text>
<text transform="translate(24.42,335.20) rotate(-90) scale(0.9843,1)" text-anchor="middle" style="font-family:&quot;Liberation Sans&quot;,sans-serif;stroke:#000;stroke-width:0.45px;font-size:20.94px">0</text>
<text transform="translate(24.42,347.80) rotate(-90) scale(0.7561,1)" text-anchor="middle" style="font-family:&quot;Liberation Sans&quot;,sans-serif;stroke:#000;stroke-width:0.45px;font-size:20.94px">1</text>
<text transform="translate(25.95,359.80) rotate(-90) scale(1.0559,1)" text-anchor="middle" style="font-family:&quot;Liberation Sans&quot;,sans-serif;stroke:#000;stroke-width:0.45px;font-size:18.14px">×</text>
<text transform="translate(23.91,370.40) rotate(-90) scale(0.9304,1)" text-anchor="middle" style="font-family:&quot;Liberation Sans&quot;,sans-serif;stroke:#000;stroke-width:0.45px;font-size:23.42px">(</text>
<text transform="translate(24.47,830.76) rotate(-90) scale(0.9273,1)" text-anchor="middle" style="font-family:&quot;Liberation Sans&quot;,sans-serif;stroke:#000;stroke-width:0.45px;font-size:22.56px">)</text>
<text transform="translate(12.40,843.89) rotate(-90) scale(0.7839,1)" text-anchor="middle" style="font-family:&quot;Liberation Sans&quot;,sans-serif;font-weight:bold;stroke:#000;stroke-width:0.45px;font-size:15.28px">15</text>
<text transform="translate(14.15,855.40) rotate(-90) scale(0.7329,1)" text-anchor="middle" style="font-family:&quot;Liberation Sans&quot;,sans-serif;stroke:#000;stroke-width:0.45px;font-size:20.77px">−</text>
<text transform="translate(24.42,867.40) rotate(-90) scale(0.9843,1)" text-anchor="middle" style="font-family:&quot;Liberation Sans&quot;,sans-serif;stroke:#000;stroke-width:0.45px;font-size:20.94px">0</text>
<text transform="translate(24.42,880.00) rotate(-90) scale(0.7561,1)" text-anchor="middle" style="font-family:&quot;Liberation Sans&quot;,sans-serif;stroke:#000;stroke-width:0.45px;font-size:20.94px">1</text>
<text transform="translate(25.95,892.00) rotate(-90) scale(1.0559,1)" text-anchor="middle" style="font-family:&quot;Liberation Sans&quot;,sans-serif;stroke:#000;stroke-width:0.45px;font-size:18.14px">×</text>
<text transform="translate(23.91,902.60) rotate(-90) scale(0.9304,1)" text-anchor="middle" style="font-family:&quot;Liberation Sans&quot;,sans-serif;stroke:#000;stroke-width:0.45px;font-size:23.42px">(</text>
<text transform="translate(487.32,282.93) scale(0.8943,1)" text-anchor="middle" style="font-family:&quot;Liberation Serif&quot;,serif;stroke:#000;stroke-width:0.60px;font-size:28.19px">L</text>
<text transform="translate(504.40,282.93) scale(0.8899,1)" text-anchor="middle" style="font-family:&quot;Liberation Serif&quot;,serif;stroke:#000;stroke-width:0.60px;font-size:28.19px">H</text>
<text transform="translate(521.93,283.45) scale(1.0296,1)" text-anchor="middle" style="font-family:&quot;Liberation Serif&quot;,serif;stroke:#000;stroke-width:0.60px;font-size:29.18px">S</text>
<text transform="translate(554.32,282.93) scale(1.1194,1)" text-anchor="middle" style="font-family:&quot;Liberation Serif&quot;,serif;stroke:#000;stroke-width:0.60px;font-size:28.19px">2</text>
<text transform="translate(569.35,282.93) scale(1.0672,1)" text-anchor="middle" style="font-family:&quot;Liberation Serif&quot;,serif;stroke:#000;stroke-width:0.60px;font-size:28.19px">2</text>
<text transform="translate(586.41,282.93) scale(1.0973,1)" text-anchor="middle" style="font-family:&quot;Liberation Serif&quot;,serif;stroke:#000;stroke-width:0.60px;font-size:28.19px">2</text>
<text transform="translate(603.67,283.18) scale(1.0238,1)" text-anchor="middle" style="font-family:&quot;Liberation Serif&quot;,serif;stroke:#000;stroke-width:0.60px;font-size:29.35px">9</text>
<text transform="translate(480.36,813.56) scale(0.8268,1)" text-anchor="middle" style="font-family:&quot;Liberation Serif&quot;,serif;stroke:#000;stroke-width:0.60px;font-size:30.85px">L</text>
<text transform="translate(496.20,813.56) scale(0.9764,1)" text-anchor="middle" style="font-family:&quot;Liberation Serif&quot;,serif;stroke:#000;stroke-width:0.60px;font-size:30.85px">P</text>
<text transform="translate(528.38,813.15) scale(1.1012,1)" text-anchor="middle" style="font-family:&quot;Liberation Serif&quot;,serif;stroke:#000;stroke-width:0.60px;font-size:27.96px">7</text>
<text transform="translate(546.40,813.56) scale(0.9040,1)" text-anchor="middle" style="font-family:&quot;Liberation Serif&quot;,serif;stroke:#000;stroke-width:0.60px;font-size:30.85px">9</text>
<text transform="translate(561.65,813.56) scale(0.9009,1)" text-anchor="middle" style="font-family:&quot;Liberation Serif&quot;,serif;stroke:#000;stroke-width:0.60px;font-size:30.85px">0</text>
<text transform="translate(579.15,816.10) scale(1.0000,1)" text-anchor="middle" style="font-family:&quot;Liberation Serif&quot;,serif;stroke:#000;stroke-width:0.60px;font-size:33.40px">−</text>
<text transform="translate(597.89,813.56) scale(0.9788,1)" text-anchor="middle" style="font-family:&quot;Liberation Serif&quot;,serif;stroke:#000;stroke-width:0.60px;font-size:30.85px">2</text>
<text transform="translate(615.42,813.56) scale(1.0088,1)" text-anchor="middle" style="font-family:&quot;Liberation Serif&quot;,serif;stroke:#000;stroke-width:0.60px;font-size:30.85px">9</text>
<text transform="translate(151.42,403.67) scale(0.9317,1)" text-anchor="middle" style="font-family:&quot;Liberation Serif&quot;,serif;font-weight:bold;stroke:#000;stroke-width:0.30px;font-size:19.82px">A</text>
<text transform="translate(202.45,439.68) scale(0.9088,1)" text-anchor="middle" style="font-family:&quot;Liberation Serif&quot;,serif;font-weight:bold;stroke:#000;stroke-width:0.30px;font-size:21.41px">B</text>
<text transform="translate(274.55,439.63) scale(0.9077,1)" text-anchor="middle" style="font-family:&quot;Liberation Serif&quot;,serif;font-weight:bold;stroke:#000;stroke-width:0.30px;font-size:22.64px">C</text>
<text transform="translate(352.90,430.80) scale(0.8955,1)" text-anchor="middle" style="font-family:&quot;Liberation Serif&quot;,serif;font-weight:bold;stroke:#000;stroke-width:0.30px;font-size:22.33px">D</text>
<text transform="translate(435.25,387.11) scale(0.8541,1)" text-anchor="middle" style="font-family:&quot;Liberation Serif&quot;,serif;font-weight:bold;stroke:#000;stroke-width:0.30px;font-size:22.86px">E</text>
<text transform="translate(547.30,328.38) scale(0.9344,1)" text-anchor="middle" style="font-family:&quot;Liberation Serif&quot;,serif;font-weight:bold;stroke:#000;stroke-width:0.30px;font-size:23.80px">F</text>
<text transform="translate(383.20,1066.06) scale(0.6129,1)" text-anchor="middle" style="font-family:&quot;Liberation Serif&quot;,serif;font-weight:bold;stroke:#000;stroke-width:0.55px;font-size:21.67px">W</text>
<text transform="translate(395.75,1065.98) scale(0.8902,1)" text-anchor="middle" style="font-family:&quot;Liberation Serif&quot;,serif;font-weight:bold;stroke:#000;stroke-width:0.55px;font-size:21.99px">a</text>
<text transform="translate(407.95,1065.98) scale(0.8838,1)" text-anchor="middle" style="font-family:&quot;Liberation Serif&quot;,serif;font-weight:bold;stroke:#000;stroke-width:0.55px;font-size:21.99px">v</text>
<text transform="translate(418.60,1065.98) scale(0.9276,1)" text-anchor="middle" style="font-family:&quot;Liberation Serif&quot;,serif;font-weight:bold;stroke:#000;stroke-width:0.55px;font-size:21.99px">e</text>
<text transform="translate(429.25,1066.00) scale(0.9692,1)" text-anchor="middle" style="font-family:&quot;Liberation Mono&quot;,monospace;font-weight:bold;stroke:#000;stroke-width:0.55px;font-size:20.00px">l</text>
<text transform="translate(441.50,1065.98) scale(0.9276,1)" text-anchor="middle" style="font-family:&quot;Liberation Serif&quot;,serif;font-weight:bold;stroke:#000;stroke-width:0.55px;font-size:21.99px">e</text>
<text transform="translate(454.10,1065.98) scale(0.9749,1)" text-anchor="middle" style="font-family:&quot;Liberation Serif&quot;,serif;font-weight:bold;stroke:#000;stroke-width:0.55px;font-size:21.99px">n</text>
<text transform="translate(469.45,1065.73) scale(1.4139,1)" text-anchor="middle" style="font-family:&quot;Liberation Serif&quot;,serif;font-weight:bold;stroke:#000;stroke-width:0.55px;font-size:18.43px">g</text>
<text transform="translate(481.70,1066.12) scale(1.0446,1)" text-anchor="middle" style="font-family:&quot;Liberation Serif&quot;,serif;font-weight:bold;stroke:#000;stroke-width:0.55px;font-size:21.30px">t</text>
<text transform="translate(493.65,1066.00) scale(1.0179,1)" text-anchor="middle" style="font-family:&quot;Liberation Serif&quot;,serif;font-weight:bold;stroke:#000;stroke-width:0.55px;font-size:20.00px">h</text>
<text transform="translate(517.13,1065.28) scale(0.8949,1)" text-anchor="middle" style="font-family:&quot;Liberation Serif&quot;,serif;font-weight:bold;stroke:#000;stroke-width:0.55px;font-size:23.81px">(</text>
<text transform="translate(528.05,1066.03) scale(0.8520,1)" text-anchor="middle" style="font-family:&quot;Liberation Serif&quot;,serif;font-weight:bold;stroke:#000;stroke-width:0.55px;font-size:22.03px">Å</text>
<text transform="translate(538.90,1065.28) scale(1.0123,1)" text-anchor="middle" style="font-family:&quot;Liberation Serif&quot;,serif;font-weight:bold;stroke:#000;stroke-width:0.55px;font-size:23.81px">)</text>
<path d="M10.3 398.2 C9.2 401 9.6 406 12.5 407.6 C15 408.5 16.2 406 15.8 403.5 C15.2 402.5 13.8 402.8 13.4 404.2 M10.3 398.2 L15.8 400.2 M15.6 397.6 L19 398.8 L18.6 404 M17.5 401.2 C21 402 23.5 404.5 23.3 407.5 C23.1 409.5 21.8 409.8 21.6 408.6 M19.4 394 C21 392.6 23.2 391.4 27.8 388.3 M24.7 392.1 L27.8 394.4" fill="none" stroke="#000" stroke-width="1.8" stroke-linecap="round" stroke-linejoin="round"/><circle cx="22.1" cy="408.7" r="1.4"/><path d="M15.4 397.4 h3.6 v2.4 h-3.6z"/><path d="M10.3 930.4000000000001 C9.2 933.2 9.6 938.2 12.5 939.8000000000001 C15 940.7 16.2 938.2 15.8 935.7 C15.2 934.7 13.8 935.0 13.4 936.4000000000001 M10.3 930.4000000000001 L15.8 932.4000000000001 M15.6 929.8000000000001 L19 931.0 L18.6 936.2 M17.5 933.4000000000001 C21 934.2 23.5 936.7 23.3 939.7 C23.1 941.7 21.8 942.0 21.6 940.8000000000001 M19.4 926.2 C21 924.8000000000001 23.2 923.6 27.8 920.5 M24.7 924.3000000000001 L27.8 926.6" fill="none" stroke="#000" stroke-width="1.8" stroke-linecap="round" stroke-linejoin="round"/><circle cx="22.1" cy="940.9" r="1.4"/><path d="M15.4 929.6 h3.6 v2.4 h-3.6z"/>

</svg>
</body></html>
